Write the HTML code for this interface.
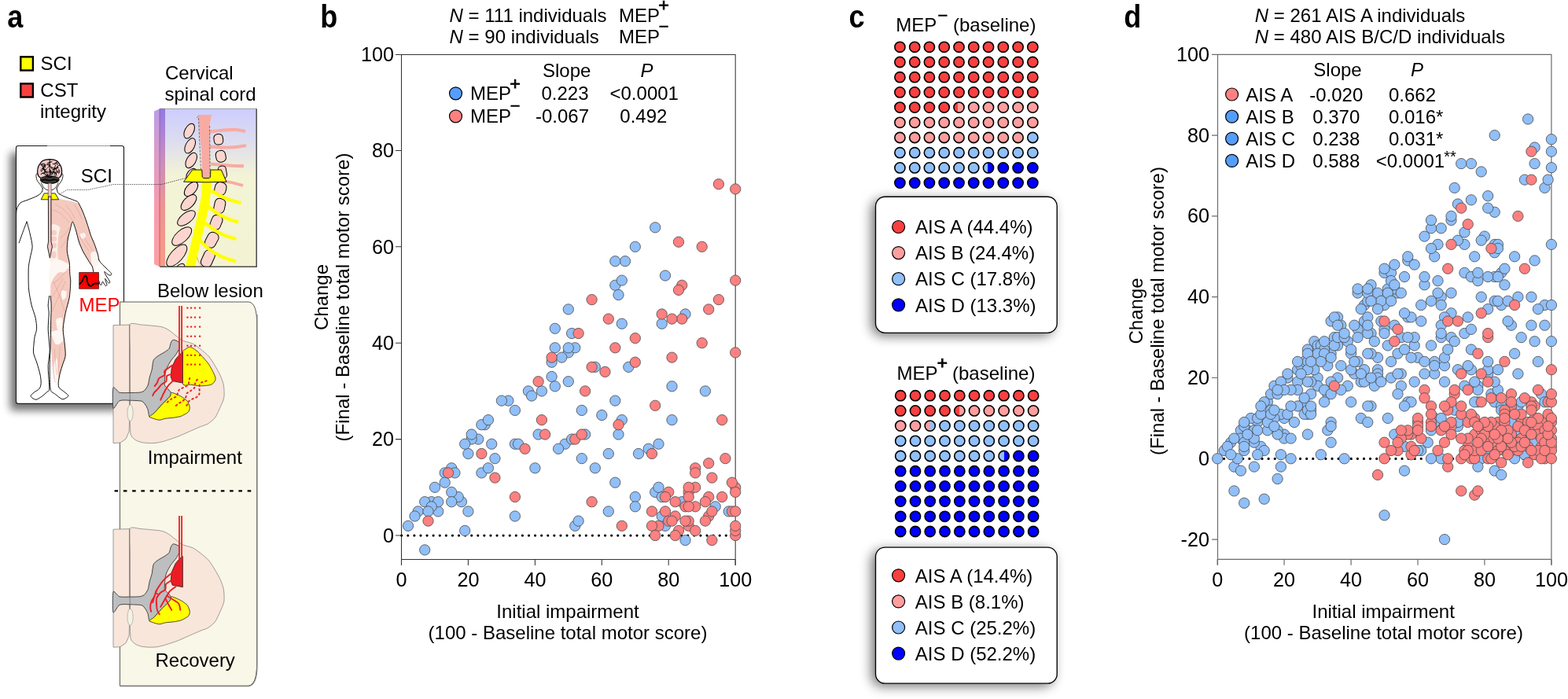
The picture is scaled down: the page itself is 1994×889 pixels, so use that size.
<!DOCTYPE html>
<html lang="en"><head><meta charset="utf-8"><title>Figure</title>
<style>
html,body{margin:0;padding:0;background:#fff;}
body{width:1994px;height:889px;overflow:hidden;}
svg{display:block;font-family:"Liberation Sans", sans-serif;font-size:24px;fill:#000;}
.pl{font-weight:bold;font-size:40.5px;}
</style></head><body>
<svg width="1994" height="889" viewBox="0 0 1994 889">
<defs>
<filter id="sh" x="-20%" y="-25%" width="140%" height="150%"><feGaussianBlur stdDeviation="7.5"/></filter>
<filter id="sh2" x="-20%" y="-20%" width="140%" height="140%"><feGaussianBlur stdDeviation="5.5"/></filter>
</defs>
<rect width="1994" height="889" fill="#fff"/>

<g class="pl">
<text transform="translate(9.3 35) scale(0.89 1)">a</text>
<text transform="translate(407.2 35) scale(0.89 1)">b</text>
<text transform="translate(1079.6 35) scale(0.89 1)">c</text>
<text transform="translate(1429.2 35) scale(0.89 1)">d</text>
</g>
<rect x="26.3" y="72.3" width="15.6" height="17.2" fill="#ffff00" stroke="#000" stroke-width="2.4"/>
<rect x="26.3" y="106.4" width="15.6" height="17.1" fill="#f94040" stroke="#000" stroke-width="2.4"/>
<text x="51.6" y="89.1">SCI</text>
<text x="51.3" y="123.1">CST</text>
<text x="51" y="150.4">integrity</text>
<text x="210" y="101.3">Cervical</text>
<text x="209.5" y="127.5">spinal cord</text>
<text x="200" y="377.6">Below lesion</text>
<defs>
<linearGradient id="cbg" x1="0" y1="0" x2="0" y2="1"><stop offset="0" stop-color="#cdcdff"/><stop offset="0.2" stop-color="#dcdcf0"/><stop offset="0.42" stop-color="#f3f3d6"/><stop offset="1" stop-color="#f3f3d4"/></linearGradient>
<linearGradient id="cs1" x1="0" y1="0" x2="0" y2="1"><stop offset="0" stop-color="#9478e4"/><stop offset="0.3" stop-color="#c68cc0"/><stop offset="0.6" stop-color="#ec9496"/><stop offset="1" stop-color="#f89a86"/></linearGradient>
<linearGradient id="cs2" x1="0" y1="0" x2="0" y2="1"><stop offset="0" stop-color="#bb9ce6"/><stop offset="0.3" stop-color="#dc9cc8"/><stop offset="0.6" stop-color="#f79cae"/><stop offset="1" stop-color="#ff9fa2"/></linearGradient>
<clipPath id="cclip"><rect x="203" y="138.3" width="123" height="201"/></clipPath>
</defs>
<path d="M196 141.5L203 138.3V339.3L196 336Z" fill="url(#cs2)"/>
<rect x="203" y="138.3" width="123" height="201" fill="url(#cbg)"/>
<rect x="203" y="138.3" width="7" height="201" fill="url(#cs1)"/>
<path d="M203 138.6V240" stroke="#6a4a9a" stroke-width="0.8" opacity="0.7"/>
<path d="M203 240V339" stroke="#a24a52" stroke-width="0.9" opacity="0.8"/>
<g clip-path="url(#cclip)">
<path d="M266.0 167.5C269.2 167.2 279.3 165.9 285.0 165.5C290.7 165.1 295.5 164.8 300.0 165.0C304.5 165.2 310.0 166.7 312.0 167.0" fill="none" stroke="#f8aba2" stroke-width="4.2"/>
<path d="M266.0 186.5C269.2 186.7 279.3 187.4 285.0 187.5C290.7 187.6 295.3 187.4 300.0 187.0C304.7 186.6 310.8 185.3 313.0 185.0" fill="none" stroke="#f8aba2" stroke-width="4.2"/>
<path d="M268.0 208.5C270.8 208.8 279.7 209.6 285.0 210.0C290.3 210.4 295.8 210.8 300.0 211.0C304.2 211.2 308.3 211.0 310.0 211.0" fill="none" stroke="#f8aba2" stroke-width="4.2"/>
<path d="M286.0 230.5C288.0 230.9 294.2 232.1 298.0 233.0C301.8 233.9 307.2 235.5 309.0 236.0" fill="none" stroke="#f8aba2" stroke-width="3.6"/>
<ellipse cx="240.7" cy="166.6" rx="5.6" ry="10.2" transform="rotate(27 240.7 166.6)" fill="#fcd6ce" stroke="#000" stroke-width="1"/>
<ellipse cx="241.7" cy="185.4" rx="5.6" ry="10.4" transform="rotate(27 241.7 185.4)" fill="#fcd6ce" stroke="#000" stroke-width="1"/>
<ellipse cx="243.2" cy="204" rx="5.8" ry="10.6" transform="rotate(30 243.2 204)" fill="#fcd6ce" stroke="#000" stroke-width="1"/>
<ellipse cx="243.5" cy="222" rx="5.5" ry="8.5" transform="rotate(35 243.5 222)" fill="#fcd6ce" stroke="#000" stroke-width="1"/>
<ellipse cx="243" cy="240.5" rx="6.2" ry="11" transform="rotate(42 243 240.5)" fill="#fcd6ce" stroke="#000" stroke-width="1"/>
<ellipse cx="240" cy="257.5" rx="6.4" ry="12.4" transform="rotate(45 240 257.5)" fill="#fcd6ce" stroke="#000" stroke-width="1"/>
<ellipse cx="237" cy="277.5" rx="6.6" ry="13.4" transform="rotate(52 237 277.5)" fill="#fcd6ce" stroke="#000" stroke-width="1"/>
<ellipse cx="231.2" cy="300.5" rx="7.4" ry="15.4" transform="rotate(48 231.2 300.5)" fill="#fcd6ce" stroke="#000" stroke-width="1"/>
<ellipse cx="224.8" cy="325" rx="7.8" ry="17.4" transform="rotate(42 224.8 325)" fill="#fcd6ce" stroke="#000" stroke-width="1"/>
<ellipse cx="228" cy="343" rx="5" ry="9" transform="rotate(40 228 343)" fill="#fcd6ce" stroke="#000" stroke-width="1"/>
<rect x="272.1" y="170.6" width="11.5" height="13.4" rx="4.8" transform="rotate(-8 277.8 177.3)" fill="#fcd6ce" stroke="#000" stroke-width="1"/>
<rect x="274.6" y="191.5" width="12.4" height="14.6" rx="5.2" transform="rotate(-12 280.8 198.8)" fill="#fcd6ce" stroke="#000" stroke-width="1"/>
<rect x="278.0" y="211.0" width="10" height="16" rx="4.2" transform="rotate(-10 283 219)" fill="#fcd6ce" stroke="#000" stroke-width="1"/>
<rect x="273.1" y="231.8" width="14.5" height="16.5" rx="6.1" transform="rotate(14 280.3 240)" fill="#fcd6ce" stroke="#000" stroke-width="1"/>
<rect x="272.5" y="252.5" width="13.6" height="18.6" rx="5.7" transform="rotate(12 279.3 261.8)" fill="#fcd6ce" stroke="#000" stroke-width="1"/>
<rect x="268.2" y="273.5" width="13.6" height="18.6" rx="5.7" transform="rotate(22 275 282.8)" fill="#fcd6ce" stroke="#000" stroke-width="1"/>
<rect x="262.3" y="295.2" width="14" height="20" rx="5.9" transform="rotate(28 269.3 305.2)" fill="#fcd6ce" stroke="#000" stroke-width="1"/>
<rect x="257.4" y="318.0" width="14" height="22" rx="5.9" transform="rotate(24 264.4 329)" fill="#fcd6ce" stroke="#000" stroke-width="1"/>
<path d="M253.2 146.0 L269.0 146.0 L266.6 160.0 L267.4 227.0 L257.4 227.0 L256.0 190.0 L252.2 150.0Z" fill="#f8aba2" stroke="none" stroke-width="1"/>
<path d="M250.0 150.0 L253.0 146.8" fill="none" stroke="#555" stroke-width="0.6"/>
<path d="M252.4 150L256 226M266.6 160L267.2 226" fill="none" stroke="#333" stroke-width="0.6" stroke-dasharray="3 1.5"/>
<path d="M257.0 230.0 L269.6 230.0 L266.0 262.0 L261.0 284.0 L255.0 308.0 L248.0 339.5 L236.0 339.5 L244.0 305.0 L251.0 275.0 L256.0 250.0Z" fill="#ffff00" stroke="none" stroke-width="1"/>
<path d="M268.5 242.5C270.4 243.6 275.9 247.0 280.0 249.0C284.1 251.0 288.6 253.0 293.0 254.5C297.4 256.0 304.2 257.4 306.5 258.0" fill="none" stroke="#ffff00" stroke-width="4.4"/>
<path d="M264.5 262.5C266.4 263.9 271.9 268.4 276.0 271.0C280.1 273.6 284.5 276.1 289.0 278.0C293.5 279.9 300.7 281.8 303.0 282.5" fill="none" stroke="#ffff00" stroke-width="4.4"/>
<path d="M260.0 283.0C262.0 284.5 267.7 289.2 272.0 292.0C276.3 294.8 281.2 297.5 286.0 299.5C290.8 301.5 298.1 303.2 300.5 304.0" fill="none" stroke="#ffff00" stroke-width="4.4"/>
<path d="M254.5 306.0C256.4 307.8 261.4 313.6 266.0 317.0C270.6 320.4 276.3 323.9 282.0 326.5C287.7 329.1 297.0 331.5 300.0 332.5" fill="none" stroke="#ffff00" stroke-width="4.4"/>
<path d="M250.0 327.0C250.7 328.3 252.7 332.7 254.0 335.0C255.3 337.3 257.3 340.0 258.0 341.0" fill="none" stroke="#f4a8a0" stroke-width="1.2"/>
<path d="M244.7 216.0 L256.8 216.0 L257.2 225.0 L259.0 226.6 L266.0 226.6 L267.6 225.0 L267.8 216.0 L281.3 216.0 L288.0 231.2 L262.0 231.8 L233.6 231.2Z" fill="#ffff00" stroke="#000" stroke-width="0.9"/>
</g>
<path d="M203.3 339.3H326.2V138.3" fill="none" stroke="#4a4a4a" stroke-width="1.5"/>
<path d="M203 138.3H326" fill="none" stroke="#666" stroke-width="0.6"/>
<rect x="13" y="194" width="137.5" height="328" rx="3" fill="#000" opacity="0.56" filter="url(#sh2)"/>
<rect x="20.5" y="185.5" width="137" height="327.8" rx="2.6" fill="#fff" stroke="#1c1c1c" stroke-width="1.15"/>
<path d="M60 185.5H140" stroke="#999" stroke-width="1"/>
<clipPath id="bclip"><rect x="21.1" y="186.1" width="135.8" height="326.6"/></clipPath>
<g clip-path="url(#bclip)">
<path d="M65.2 250.0C66.5 250.3 73.3 252.3 76.2 253.0C79.2 253.7 87.5 255.3 90.3 256.0C93.1 256.7 98.7 257.7 100.3 259.0C101.9 260.3 103.4 264.9 104.3 267.0C105.2 269.1 107.4 274.5 108.3 277.1C109.3 279.6 111.5 286.5 112.3 289.1C113.2 291.7 114.4 296.5 115.3 299.1C116.3 301.7 119.3 308.3 120.4 311.2C121.4 314.0 123.6 320.6 124.4 323.2C125.1 325.8 127.3 331.8 126.6 333.7C125.8 335.7 119.5 340.0 117.9 339.7C116.2 339.4 113.8 333.6 112.3 331.2C110.9 328.8 106.7 322.0 105.3 319.2C103.9 316.4 101.4 310.3 100.3 307.1C99.2 304.0 97.2 295.0 96.3 292.1C95.4 289.2 93.1 282.1 92.3 282.1C91.5 282.1 90.0 289.5 89.3 292.1C88.6 294.7 86.7 301.0 86.3 304.1C85.8 307.3 85.0 315.7 85.3 319.2C85.5 322.7 87.9 330.8 88.3 334.2C88.7 337.6 88.6 345.4 88.8 348.2C88.9 350.9 89.8 354.5 89.8 358.0C89.7 361.5 89.0 373.4 88.3 378.1C87.5 382.8 84.2 393.5 83.2 398.2C82.3 402.8 80.4 413.7 80.2 418.2C80.1 422.8 81.9 433.2 82.2 437.2C82.6 441.1 83.5 449.1 83.2 452.0C83.0 455.0 81.1 459.4 80.2 462.1C79.4 464.8 77.0 472.3 76.2 475.1C75.5 477.9 74.5 485.0 73.7 486.1C72.9 487.3 70.0 487.4 69.2 485.1C68.4 482.9 67.2 471.5 66.7 467.1C66.2 462.6 65.5 450.5 65.2 447.0C64.9 443.5 64.3 441.5 64.2 437.0C64.1 432.5 64.6 413.9 64.7 408.2C64.8 402.5 65.3 392.0 65.2 388.1C65.1 384.3 64.3 382.0 64.2 375.1C64.1 368.2 64.6 342.8 64.7 329.2C64.8 315.7 65.1 268.2 65.2 259.0C65.3 249.8 65.2 251.0 65.2 250.0C65.2 248.9 63.9 249.6 65.2 250.0Z" fill="#f4cabf" stroke="none" stroke-width="1"/>
<path d="M65.2 287.1C66.3 282.1 75.2 287.8 76.2 288.6C77.2 289.4 75.5 293.3 75.2 295.1C75.0 297.0 73.9 304.5 73.7 307.1C73.5 309.8 73.2 318.4 73.2 321.2C73.3 324.0 75.0 333.5 74.2 335.2C73.4 336.9 66.1 343.1 65.2 338.2C64.3 333.4 64.1 292.0 65.2 287.1Z" fill="#fbeee8" stroke="none" stroke-width="1"/>
<ellipse cx="68.5" cy="296" rx="3.6" ry="3.4" fill="#f6cfc5"/>
<ellipse cx="68.5" cy="304" rx="3.6" ry="3.4" fill="#f6cfc5"/>
<ellipse cx="68.5" cy="312" rx="3.6" ry="3.6" fill="#f6cfc5"/>
<ellipse cx="68.2" cy="324" rx="3.6" ry="4.6" fill="#f6cfc5"/>
<ellipse cx="68" cy="340" rx="3.4" ry="6" fill="#f6cfc5"/>
<path d="M78.2 370.1C78.8 368.4 82.6 369.7 83.2 371.1C83.9 372.4 82.8 376.4 82.2 378.1C81.7 379.8 80.4 382.4 79.7 381.1C79.1 379.8 77.6 371.7 78.2 370.1Z" fill="#fff" stroke="none" stroke-width="1"/>
<path d="M73.2 406.2C74.1 404.0 78.2 403.2 79.2 405.2C80.2 407.2 79.1 413.5 79.2 418.2C79.4 422.9 81.7 430.1 80.2 433.3C78.7 436.4 72.0 438.3 70.2 437.2C68.4 436.0 68.5 429.4 69.2 426.2C69.9 423.1 73.6 421.6 74.2 418.2C74.9 414.9 72.4 408.3 73.2 406.2Z" fill="#fdf3ef" stroke="none" stroke-width="1"/>
<path d="M102.3 297.6C102.9 296.6 106.8 296.2 107.8 296.9C108.8 297.7 108.9 301.1 108.3 302.1C107.7 303.2 105.3 303.9 104.3 303.1C103.3 302.4 101.7 298.7 102.3 297.6Z" fill="#fff" stroke="none" stroke-width="1"/>
<path d="M115.3 323.2C115.9 320.1 120.0 318.9 121.9 320.7C123.7 322.4 127.2 330.6 126.6 333.7C126.0 336.8 120.2 341.0 118.4 339.2C116.5 337.5 114.8 326.3 115.3 323.2Z" fill="#fbf4ef" stroke="none" stroke-width="1"/>
<path d="M65.2 332.2C66.8 329.9 71.2 329.4 74.2 330.0C77.2 330.6 86.5 334.6 87.7 336.7C88.9 338.8 85.0 344.4 83.2 345.7C81.4 347.1 76.3 345.7 74.2 346.9C72.1 348.1 69.0 352.5 67.5 354.7C66.0 357.0 63.7 364.6 63.0 363.7C62.3 362.8 62.2 352.2 62.5 348.0C62.8 343.8 63.7 334.6 65.2 332.2Z" fill="#fdf6f2" stroke="none" stroke-width="1"/>
<path d="M77.6 371.6C78.2 370.3 83.6 369.6 84.4 370.5C85.2 371.4 84.3 377.0 83.7 378.4C83.1 379.7 80.7 381.5 79.9 380.6C79.1 379.7 77.0 373.0 77.6 371.6Z" fill="#fdf6f2" stroke="none" stroke-width="1"/>
<path d="M65.7 422.2C66.6 420.7 72.4 419.5 74.2 420.0C76.0 420.4 78.7 423.5 79.2 425.6C79.6 427.7 78.6 434.1 77.6 435.7C76.7 437.4 73.3 438.6 72.0 438.0C70.6 437.4 68.3 433.3 67.5 431.2C66.7 429.1 64.8 423.7 65.7 422.2Z" fill="#fdf6f2" stroke="none" stroke-width="1"/>
<path d="M71.5 406.5C72.1 404.7 76.7 403.9 77.6 405.4C78.5 406.9 78.9 415.9 78.3 417.7C77.7 419.5 74.0 420.4 73.1 418.9C72.2 417.4 70.9 408.3 71.5 406.5Z" fill="#fdf6f2" stroke="none" stroke-width="1"/>
<path d="M68.6 465.0C68.9 461.1 71.7 453.3 72.4 456.0C73.2 458.7 74.5 481.3 74.2 485.2C73.9 489.1 70.9 487.9 70.2 485.2C69.4 482.5 68.3 468.9 68.6 465.0Z" fill="#fdf6f2" stroke="none" stroke-width="1"/>
<g fill="none" stroke="#d98f7c" stroke-width="0.5" opacity="0.85">
<path d="M70.2 260.0C71.7 260.8 76.4 262.8 79.2 265.0C82.1 267.2 84.9 270.2 87.3 273.0C89.6 275.9 92.3 280.6 93.3 282.1"/>
<path d="M83.2 260.0C84.4 261.5 88.3 266.0 90.3 269.0C92.3 272.0 94.5 276.6 95.3 278.1"/>
<path d="M66.2 267.0C67.9 267.7 72.6 268.4 76.2 271.0C79.9 273.7 86.3 281.1 88.3 283.1"/>
<path d="M94.3 260.0C95.1 261.3 97.6 264.9 99.3 268.0C101.0 271.2 103.5 277.2 104.3 279.1"/>
<path d="M76.2 303.1C77.4 302.1 81.2 299.5 83.2 297.1C85.3 294.8 87.4 290.4 88.3 289.1"/>
<path d="M77.2 315.2C78.2 313.8 81.7 309.8 83.2 307.1C84.8 304.5 85.8 300.5 86.3 299.1"/>
<path d="M101.3 301.1C102.1 302.5 104.3 306.1 106.3 309.2C108.3 312.2 112.2 317.5 113.3 319.2"/>
<path d="M104.3 297.1C105.5 299.1 109.0 305.5 111.3 309.2C113.7 312.8 117.2 317.5 118.4 319.2"/>
<path d="M66.2 361.0C67.9 359.9 72.9 357.2 76.2 354.0C79.6 350.8 84.6 344.0 86.3 342.0"/>
<path d="M64.2 381.1C65.5 378.9 69.5 372.6 72.2 368.1C74.9 363.5 78.9 356.4 80.2 354.0"/>
<path d="M66.2 396.1C67.5 393.1 71.4 384.4 74.2 378.1C77.1 371.7 81.7 361.4 83.2 358.0"/>
<path d="M68.2 358.0C69.5 361.4 73.9 371.7 76.2 378.1C78.6 384.4 81.2 393.1 82.2 396.1"/>
<path d="M69.2 443.0C69.4 445.4 69.7 451.4 70.2 457.1C70.7 462.7 71.9 473.8 72.2 477.1"/>
<path d="M76.2 441.0C76.1 443.7 75.6 451.4 75.2 457.1C74.8 462.7 74.0 472.1 73.7 475.1"/>
</g>
<path d="M54.2 239.2C54.0 240.0 54.3 242.6 53.2 244.2C52.0 245.9 50.2 247.6 47.1 249.2C44.1 250.9 38.4 252.9 35.1 254.3C31.8 255.6 29.0 256.1 27.1 257.3C25.2 258.4 24.5 259.5 23.6 261.0C22.6 262.5 21.8 264.0 21.3 266.0C20.7 268.0 20.6 271.9 20.5 273.0" fill="none" stroke="#111" stroke-width="1"/>
<path d="M24.1 309.2C24.9 306.8 27.4 299.7 29.1 295.1C30.8 290.5 33.3 283.8 34.1 281.6" fill="none" stroke="#111" stroke-width="1"/>
<path d="M34.1 281.6C34.6 283.6 37.2 292.9 38.1 297.1C39.1 301.3 41.0 309.6 41.1 313.2C41.3 316.8 39.7 321.0 39.1 324.2C38.5 327.4 37.0 334.1 36.6 337.2C36.2 340.4 36.1 343.9 36.1 348.0C36.1 352.1 36.1 362.7 36.6 368.1C37.1 373.4 39.0 383.3 40.1 388.1C41.3 392.9 44.3 400.2 45.1 404.2C46.0 408.2 46.8 415.0 46.6 418.2C46.5 421.4 44.6 425.7 44.1 428.2C43.7 430.7 43.3 434.2 43.1 437.0C42.9 439.8 42.1 445.7 42.6 449.0C43.2 452.4 46.0 458.3 47.1 462.1C48.3 465.8 50.5 473.8 51.2 477.1C51.8 480.5 52.3 484.9 52.2 487.2C52.0 489.4 51.4 492.6 50.2 494.2C48.9 495.8 44.6 498.0 43.1 499.2C41.7 500.4 39.4 502.3 39.1 503.2C38.8 504.1 40.2 505.5 41.1 506.2C42.1 506.9 44.5 508.5 46.1 508.2C47.7 507.9 51.3 505.5 53.2 504.2C55.0 502.9 58.9 499.4 60.2 498.2C61.5 497.0 62.5 498.0 62.7 495.2C62.9 492.4 61.9 481.1 61.7 477.1C61.5 473.1 61.0 469.1 61.2 465.1C61.4 461.1 63.0 450.8 63.2 447.0C63.4 443.3 63.0 441.0 62.7 437.2C62.4 433.3 61.3 423.4 61.2 418.2C61.1 413.0 62.2 402.2 62.2 398.2C62.2 394.1 61.1 391.1 61.2 388.1C61.3 385.2 62.5 377.7 62.7 376.1" fill="none" stroke="#111" stroke-width="1"/>
<path d="M64.2 376.1C64.3 377.7 65.1 383.8 65.2 388.1C65.3 392.4 64.8 401.6 64.7 408.2C64.6 414.7 64.4 429.3 64.2 437.2C64.0 445.0 63.2 459.4 63.2 467.1C63.2 474.8 63.3 490.6 64.2 495.2C65.1 499.7 68.2 499.5 70.2 501.2C72.2 502.9 77.2 507.2 79.2 507.7C81.2 508.2 84.3 505.9 85.3 505.2C86.3 504.5 87.4 503.8 86.8 502.7C86.1 501.6 81.8 498.5 80.2 497.2C78.7 495.9 76.0 494.5 75.2 493.2C74.4 491.8 74.1 489.6 74.2 487.2C74.4 484.7 75.4 478.5 76.2 475.1C77.0 471.8 79.3 465.2 80.2 462.1C81.2 459.0 83.0 455.4 83.2 452.0C83.5 448.7 82.6 441.5 82.2 437.0C81.8 432.5 80.1 423.4 80.2 418.2C80.4 413.0 82.2 403.5 83.2 398.2C84.3 392.8 87.4 383.4 88.3 378.1C89.1 372.7 89.7 362.0 89.8 358.0C89.8 354.0 89.0 351.3 88.8 348.2C88.6 345.0 88.7 338.1 88.3 334.2C87.8 330.4 85.5 323.2 85.3 319.2C85.0 315.2 85.7 307.7 86.3 304.1C86.8 300.5 88.5 295.0 89.3 292.1C90.1 289.2 91.3 282.1 92.3 282.1C93.2 282.1 95.2 288.8 96.3 292.1C97.4 295.4 99.1 303.5 100.3 307.1C101.5 310.8 103.7 316.0 105.3 319.2C106.9 322.4 110.7 328.5 112.3 331.2C113.9 333.9 116.5 337.2 117.4 339.2C118.2 341.2 118.7 345.3 118.9 346.3" fill="none" stroke="#111" stroke-width="1"/>
<path d="M72.2 239.2C72.4 240.0 72.7 243.9 73.7 245.2C74.8 246.6 78.0 248.2 80.2 249.2C82.4 250.3 87.9 252.3 90.3 253.2C92.7 254.2 97.0 255.5 98.3 256.3C99.6 257.0 99.5 257.6 100.3 259.0C101.1 260.4 103.2 264.6 104.3 267.0C105.4 269.4 107.3 274.1 108.3 277.1C109.4 280.0 111.4 286.1 112.3 289.1C113.3 292.0 114.3 296.2 115.3 299.1C116.4 302.1 119.2 307.9 120.4 311.2C121.6 314.4 123.6 320.3 124.4 323.2C125.1 326.1 125.7 330.9 126.2 332.7C126.6 334.5 127.7 336.2 127.9 336.7" fill="none" stroke="#111" stroke-width="1"/>
<path d="M125.2 329.8C125.7 330.6 127.0 332.8 128.2 334.3C129.5 335.8 131.2 337.3 132.8 338.8C134.3 340.3 135.8 341.9 137.3 343.4C138.7 344.8 140.8 346.4 141.4 347.5C142.1 348.6 141.6 349.4 141.2 349.8C140.8 350.2 139.7 350.4 138.8 350.0C137.8 349.6 136.4 348.3 135.4 347.5C134.4 346.8 132.9 345.0 132.8 345.5C132.6 345.9 133.8 348.6 134.6 350.1C135.5 351.7 136.8 353.2 137.6 354.7C138.5 356.1 139.6 357.9 139.7 358.8C139.8 359.7 139.0 360.3 138.4 360.1C137.8 359.9 136.9 358.6 136.1 357.7C135.4 356.7 133.9 354.3 133.7 354.3C133.4 354.3 134.0 356.4 134.4 357.7C134.8 358.9 135.9 360.8 135.9 361.8C136.0 362.8 135.2 363.8 134.6 363.7C134.0 363.6 133.0 362.0 132.4 361.1C131.7 360.1 131.1 358.2 130.6 358.1C130.2 357.9 130.0 359.2 129.7 359.9C129.4 360.7 129.3 362.1 128.8 362.4C128.4 362.6 127.6 362.3 127.1 361.6C126.6 360.9 126.4 359.0 126.1 358.1C125.8 357.2 125.4 356.5 125.2 356.2" fill="#fff" stroke="#111" stroke-width="1"/>
<path d="M54.7 240.2C54.0 239.2 51.9 236.0 50.7 234.2C49.4 232.4 47.9 231.0 47.1 229.2C46.4 227.3 45.9 224.7 45.9 223.2C45.9 221.7 46.9 220.7 47.1 220.2" fill="none" stroke="#111" stroke-width="0.9"/>
<path d="M71.7 240.2C72.3 239.2 74.1 236.0 75.2 234.2C76.4 232.4 77.9 231.0 78.7 229.2C79.5 227.3 80.0 224.7 80.0 223.2C80.0 221.7 79.0 220.7 78.7 220.2" fill="none" stroke="#111" stroke-width="0.9"/>
<path d="M52.2 232.2C52.8 233.4 54.3 237.5 56.2 239.2C58.0 240.9 60.8 242.2 63.2 242.2C65.5 242.2 68.4 240.9 70.2 239.2C72.0 237.5 73.6 233.4 74.2 232.2" fill="none" stroke="#111" stroke-width="0.9"/>
<path d="M63.2 202.6C66.2 202.6 69.9 203.2 72.2 204.6C74.6 206.0 76.1 208.9 77.2 211.1C78.3 213.4 78.7 216.0 78.7 218.1C78.7 220.3 78.3 222.7 77.2 224.2C76.1 225.7 74.6 226.6 72.2 227.2C69.9 227.8 66.2 227.7 63.2 227.7C60.2 227.7 56.5 227.8 54.2 227.2C51.8 226.6 50.2 225.7 49.1 224.2C48.1 222.7 47.6 220.3 47.6 218.1C47.6 216.0 48.1 213.4 49.1 211.1C50.2 208.9 51.8 206.0 54.2 204.6C56.5 203.2 60.2 202.6 63.2 202.6Z" fill="#f0c8c6" stroke="#000" stroke-width="1.2"/>
<g fill="none" stroke="#000" stroke-width="0.9" stroke-linecap="round">
<path d="M52.4 217.6Q50.6 216.6 54.0 214.2"/>
<path d="M60.6 223.3Q61.8 223.0 62.4 224.3"/>
<path d="M69.8 217.8Q65.8 218.1 66.5 221.7"/>
<path d="M73.3 218.9Q74.3 220.9 71.7 218.0"/>
<path d="M74.7 220.3Q77.3 216.0 74.8 216.4"/>
<path d="M71.0 219.6Q69.8 220.5 67.5 217.8"/>
<path d="M63.6 210.4Q61.5 212.4 60.5 213.4"/>
<path d="M56.8 213.0Q57.4 208.3 55.7 208.5"/>
<path d="M74.0 214.0Q74.3 212.5 72.6 212.7"/>
<path d="M68.3 217.6Q69.2 217.7 67.0 217.8"/>
<path d="M75.0 216.2Q73.2 216.6 74.3 216.3"/>
<path d="M56.6 220.2Q53.0 219.4 52.8 220.7"/>
<path d="M70.1 215.1Q67.0 216.0 68.6 216.4"/>
<path d="M64.9 217.4Q64.7 217.2 64.7 221.8"/>
<path d="M70.0 224.9Q70.7 221.2 68.7 221.9"/>
<path d="M68.1 215.6Q68.1 217.4 70.7 214.1"/>
<path d="M70.4 214.2Q72.7 219.0 75.0 219.0"/>
<path d="M56.6 222.2Q56.8 222.7 59.8 223.5"/>
<path d="M54.6 213.6Q55.5 217.5 52.3 217.9"/>
<path d="M61.2 221.9Q60.2 223.0 59.0 226.2"/>
<path d="M62.7 211.4Q62.6 209.2 60.6 209.1"/>
<path d="M71.8 223.1Q71.1 219.4 71.1 220.6"/>
<path d="M52.0 209.5Q55.4 212.1 56.1 213.9"/>
<path d="M51.4 209.0Q52.0 210.0 54.1 209.7"/>
<path d="M64.7 206.1Q64.5 205.6 60.1 208.1"/>
<path d="M72.9 207.2Q72.5 210.7 73.3 210.0"/>
<path d="M57.1 218.0Q59.4 218.3 61.2 219.8"/>
<path d="M68.6 220.2Q68.3 220.2 70.5 219.2"/>
<path d="M60.3 224.1Q57.6 221.1 56.8 220.2"/>
<path d="M61.7 207.0Q61.4 206.5 65.9 205.7"/>
<path d="M57.5 216.8Q57.0 217.0 59.1 215.3"/>
<path d="M66.5 214.9Q64.3 214.2 65.2 212.7"/>
<path d="M65.5 223.5Q63.7 224.7 65.5 225.4"/>
<path d="M55.1 208.9Q55.8 207.0 52.7 208.5"/>
<path d="M63.2 222.3Q65.4 221.0 65.7 221.3"/>
<path d="M71.4 214.0Q73.5 214.2 73.1 212.6"/>
<path d="M56.9 216.4Q54.5 214.4 55.0 212.9"/>
<path d="M61.7 218.4Q65.4 216.9 64.6 216.3"/>
<path d="M52.0 221.7Q52.0 220.1 55.9 220.0"/>
<path d="M67.2 208.5Q69.1 209.3 69.9 207.6"/>
<path d="M57.5 218.4Q58.6 219.6 56.4 217.4"/>
<path d="M62.6 219.2Q62.6 217.6 67.2 219.4"/>
<path d="M72.0 206.8Q70.3 209.8 70.7 209.0"/>
<path d="M72.3 205.7Q68.5 208.5 69.6 209.3"/>
<path d="M69.9 213.9Q67.2 216.5 66.7 216.0"/>
<path d="M64.2 219.1Q63.8 218.6 67.6 220.1"/>
<path d="M55.1 212.4Q56.8 213.1 55.4 213.8"/>
<path d="M57.1 210.1Q57.3 209.4 58.3 209.0"/>
<path d="M59.8 209.6Q63.7 208.6 63.9 209.5"/>
<path d="M73.5 212.8Q73.8 211.0 72.8 211.9"/>
<path d="M67.7 213.4Q63.5 213.8 63.5 209.6"/>
<path d="M71.1 214.0Q69.8 212.4 67.4 215.7"/>
<path d="M71.7 214.7Q72.4 210.2 76.0 210.2"/>
<path d="M56.5 215.7Q58.0 216.2 59.0 214.9"/>
<path d="M62.9 215.7Q65.9 216.5 63.9 220.0"/>
<path d="M70.8 210.2Q70.4 211.3 68.9 214.2"/>
<path d="M69.0 213.9Q70.7 213.6 68.9 216.1"/>
<path d="M57.5 217.4Q59.1 221.3 61.0 222.1"/>
<path d="M57.5 210.8Q56.2 208.9 56.1 208.2"/>
<path d="M67.4 218.7Q68.2 220.3 71.7 221.0"/>
<path d="M71.3 221.4Q72.2 219.4 72.5 218.3"/>
<path d="M57.5 212.5Q59.2 212.7 55.7 211.1"/>
<path d="M56.5 215.0Q53.4 215.4 53.4 214.0"/>
<path d="M56.3 219.8Q57.5 218.1 60.5 217.9"/>
<path d="M55.5 220.9Q57.1 221.0 56.9 216.8"/>
<path d="M60.8 223.1Q61.5 224.2 65.5 224.7"/>
<path d="M62.1 225.4Q61.5 223.2 59.5 222.5"/>
<path d="M53.9 211.1Q58.3 211.5 58.3 210.7"/>
<path d="M55.1 214.7Q54.8 215.7 57.2 217.1"/>
<path d="M61.1 207.1Q63.0 208.4 62.7 208.2"/>
<path d="M63.2 203V226"/>
</g>
<ellipse cx="63.2" cy="228.6" rx="12.4" ry="5.4" fill="#141414"/>
<path d="M52 227.5Q57 224.5 63 227.5Q69 224.5 74.5 227.5M55 230.5Q63 233 71 230.5" fill="none" stroke="#c9a4a2" stroke-width="0.5"/>
<path d="M56.2 245.9 L70.2 245.9 L74.7 253.8 L52.2 253.8Z" fill="#ffff00" stroke="#000" stroke-width="0.8"/>
<path d="M61.4 233.2 L65.2 233.2 L65.4 250.2 L61.2 250.2Z" fill="#f0c4c0" stroke="none" stroke-width="1"/>
<path d="M61.4 233.2 L61.2 250.2" fill="none" stroke="#333" stroke-width="0.5"/>
<path d="M65.2 233.2 L65.4 250.2" fill="none" stroke="#333" stroke-width="0.5"/>
<path d="M61.4 250.0 L65.0 250.0 L65.0 307.1 L66.4 313.7 L63.4 328.2 L60.4 313.7 L61.6 307.1Z" fill="#efc6c4" stroke="#111" stroke-width="0.9"/>
</g>
<rect x="100.8" y="346.6" width="24.6" height="20.6" fill="#ff0000" stroke="#4a1a1a" stroke-width="0.8"/>
<path d="M101.1 361.5C101.6 361.0 103.4 359.5 104.3 358.0C105.3 356.5 106.1 353.8 106.8 352.5C107.6 351.3 108.2 350.4 108.8 350.5C109.4 350.6 109.9 351.6 110.3 353.0C110.7 354.4 110.8 357.4 111.3 359.0C111.8 360.7 112.5 362.3 113.3 363.0C114.2 363.8 115.3 363.9 116.3 363.5C117.4 363.2 118.4 361.5 119.4 361.0C120.3 360.5 120.8 360.6 121.9 360.5C123.0 360.5 125.2 360.8 125.9 360.8" fill="none" stroke="#000" stroke-width="1.9"/>
<text x="100.6" y="396" fill="#ff0000">MEP</text>
<text x="102.8" y="232.2">SCI</text>
<path d="M75.5 247.0 L85.5 241.4 L112.0 241.4 L144.0 234.6 L205.0 234.6 L238.0 226.0" fill="none" stroke="#222" stroke-width="0.7" stroke-dasharray="1.6 1.1"/>
<path d="M152.5 384H316.5C324 385 326.6 396 326.6 410V846C326.6 862 323 871 316 872.4H152.5Z" fill="#f9f7e8" stroke="#4a4a4a" stroke-width="0.9"/>
<path d="M326.8 400V848C326.6 863 323 871.6 316 872.6H153" fill="none" stroke="#7a7a7a" stroke-width="1.5"/>
<path d="M164.6 413.1C166.3 409.4 175.4 412.8 180.1 413.1C184.9 413.4 201.1 414.8 205.2 415.6C209.3 416.5 212.9 418.7 215.2 420.2C217.6 421.6 223.3 426.7 225.3 428.2C227.2 429.7 229.9 432.1 232.3 433.2C234.6 434.2 242.6 435.9 245.3 437.2C248.0 438.5 253.0 442.4 255.3 444.2C257.7 446.1 263.3 450.6 265.4 453.0C267.5 455.5 271.6 462.1 273.4 465.1C275.2 468.0 279.1 475.2 280.4 478.1C281.7 481.0 283.9 487.0 284.4 490.1C285.0 493.3 285.4 502.0 284.9 505.2C284.5 508.3 281.8 514.2 280.4 517.2C279.1 520.3 275.3 528.7 273.4 531.3C271.5 533.8 266.5 537.7 264.4 539.0C262.3 540.3 258.2 541.4 255.3 542.5C252.5 543.7 243.8 547.5 240.3 549.0C236.8 550.6 228.8 554.2 225.3 555.6C221.7 556.9 213.1 559.7 210.2 560.6C207.3 561.5 202.5 562.7 200.2 563.1C197.8 563.4 192.5 563.6 190.2 563.6C187.8 563.5 182.1 563.0 180.1 562.6C178.1 562.2 174.5 560.8 173.1 560.1C171.7 559.3 168.9 557.0 168.1 556.1C167.3 555.1 166.4 553.5 166.1 552.1C165.8 550.6 165.7 547.2 165.6 544.0C165.5 540.9 165.1 536.8 165.1 525.2C165.0 513.7 165.1 458.1 165.1 445.0C165.0 431.9 162.8 416.8 164.6 413.1Z" fill="#f8e6da" stroke="#777" stroke-width="0.7"/>
<path d="M144.0 413.6 L164.6 413.1 L164.6 534.0 L164.1 549.0 L160.1 558.1 L153.0 563.1 L144.0 563.6Z" fill="#f8e6da" stroke="#777" stroke-width="0.7"/>
<path d="M220.2 432.2C219.1 432.3 217.8 434.9 217.2 436.2C216.6 437.5 216.0 441.9 215.2 443.2C214.4 444.5 212.0 446.0 210.2 447.2C208.5 448.4 201.9 451.9 200.2 453.2C198.4 454.5 196.0 456.3 195.2 458.2C194.3 460.2 193.7 467.5 193.2 470.1C192.6 472.6 190.7 477.8 190.2 480.1C189.6 482.4 189.0 488.1 188.1 490.1C187.3 492.1 184.4 496.1 183.1 497.2C181.8 498.2 179.2 498.9 177.1 499.2C175.0 499.4 168.0 499.5 165.1 499.5C162.1 499.5 154.5 499.9 152.0 499.2C149.6 498.4 144.9 490.8 144.0 493.1C143.1 495.5 143.1 517.3 144.0 519.2C144.9 521.2 149.6 510.9 152.0 509.7C154.5 508.5 161.8 509.1 165.1 509.2C168.4 509.3 177.8 509.5 180.1 510.2C182.5 510.9 184.2 513.9 185.1 515.2C186.1 516.5 187.6 519.5 188.1 521.2C188.7 523.0 189.2 529.8 190.2 530.3C191.1 530.7 194.4 527.0 196.2 525.2C197.9 523.5 202.9 517.7 205.2 515.2C207.5 512.8 214.8 506.0 216.2 504.2C217.6 502.3 217.7 500.4 217.2 499.2C216.8 497.9 213.2 494.3 212.2 493.1C211.3 492.0 209.4 491.2 209.2 489.1C209.0 487.0 209.9 477.5 210.2 475.1C210.6 472.6 211.4 469.9 212.2 468.1C213.0 466.2 215.8 461.1 217.2 459.0C218.6 456.9 223.0 452.0 224.3 450.0C225.5 448.0 227.9 443.7 228.3 442.0C228.6 440.2 228.2 436.1 227.3 435.0C226.3 433.8 221.4 432.0 220.2 432.2Z" fill="#bcbec0" stroke="#222" stroke-width="0.8"/>
<path d="M164.9 413.1 L165.3 515.2" fill="none" stroke="#555" stroke-width="0.6"/>
<ellipse cx="165.6" cy="525.2" rx="3.6" ry="10.5" fill="#f4f2e2" stroke="#999" stroke-width="0.6"/>
<path d="M218.2 499.2C219.9 499.2 227.9 502.9 230.3 504.2C232.6 505.5 237.0 508.6 238.3 510.2C239.6 511.8 241.2 516.6 241.3 518.2C241.4 519.9 240.6 523.0 239.3 524.2C238.0 525.5 232.5 528.4 230.3 529.3C228.0 530.1 222.6 530.9 220.2 531.3C217.9 531.6 212.3 531.9 210.2 532.3C208.1 532.6 204.5 534.4 202.2 534.2C199.8 533.9 190.9 531.3 190.2 530.3C189.4 529.2 194.4 527.0 196.2 525.2C197.9 523.5 202.9 517.7 205.2 515.2C207.5 512.8 214.7 506.0 216.2 504.2C217.7 502.3 216.6 499.2 218.2 499.2Z" fill="#ffff00" stroke="#222" stroke-width="0.8"/>
<path d="M232.4 449.0C232.7 444.0 234.2 445.4 235.3 444.5C236.3 443.6 239.9 441.2 241.3 441.2C242.7 441.2 245.9 443.3 247.3 444.2C248.7 445.1 251.2 446.8 253.3 449.0C255.4 451.2 263.1 459.8 265.4 463.1C267.7 466.3 271.9 474.8 272.9 477.1C273.9 479.4 274.4 481.7 273.9 483.1C273.4 484.5 271.1 488.2 268.9 489.1C266.7 490.0 258.4 490.8 255.3 490.8C252.2 490.8 245.0 489.5 242.3 489.1C239.6 488.8 233.5 492.3 232.4 487.6C231.2 482.9 232.0 454.0 232.4 449.0Z" fill="#ffff00" stroke="#222" stroke-width="0.8"/>
<path d="M232.4 448.0 L232.4 487.1 L219.2 484.6 L217.2 479.1 L218.2 468.1 L223.2 457.0 L228.3 451.0Z" fill="#ed1c24" stroke="#222" stroke-width="0.8"/>
<path d="M228 389V459M231.1 389V452" stroke="#ed1c24" stroke-width="1.8" fill="none"/>
<g fill="none" stroke="#ed1c24" stroke-width="1.9" stroke-linecap="round" stroke-linejoin="round">
<path d="M219.2 464.6C218.4 465.1 215.9 466.8 214.2 468.1C212.6 469.3 210.0 470.6 209.2 472.1C208.4 473.6 210.4 475.6 209.2 477.1C208.0 478.6 203.7 479.6 202.2 481.1C200.7 482.6 201.1 484.5 200.2 486.1C199.3 487.8 197.3 490.3 196.7 491.1"/>
<path d="M217.2 476.1C216.4 476.4 213.2 476.6 212.2 478.1C211.2 479.6 212.4 483.3 211.2 485.1C210.0 487.0 207.0 487.5 205.2 489.1C203.4 490.8 201.7 493.5 200.2 495.2C198.7 496.8 197.2 497.8 196.2 499.2C195.2 500.5 194.5 502.5 194.2 503.2"/>
<path d="M219.2 485.1C218.4 486.0 215.7 488.3 214.2 490.1C212.7 492.0 211.4 494.1 210.2 496.2C209.0 498.2 208.2 500.1 207.2 502.2C206.2 504.3 204.7 507.6 204.2 508.7"/>
</g>
<g fill="none" stroke="#ed1c24" stroke-width="1.9" stroke-dasharray="3.2 2.2">
<path d="M241.3 480.1C241.0 481.6 240.5 487.0 239.3 489.1C238.1 491.2 236.1 491.6 234.3 492.6C232.4 493.6 229.6 494.1 228.3 495.2C226.9 496.2 226.9 497.7 226.3 499.2C225.6 500.7 225.6 502.8 224.3 504.2C222.9 505.5 220.1 506.0 218.2 507.2C216.4 508.4 214.3 510.1 213.2 511.2C212.1 512.3 212.0 513.3 211.7 513.7"/>
<path d="M251.3 482.1C250.8 482.9 249.0 485.3 248.3 487.1C247.7 489.0 248.3 491.5 247.3 493.1C246.3 494.8 243.9 496.0 242.3 497.2C240.7 498.3 238.8 498.8 237.8 500.2C236.8 501.5 237.0 503.7 236.3 505.2C235.5 506.7 234.8 507.9 233.3 509.2C231.8 510.5 229.2 511.8 227.3 513.2C225.3 514.6 222.7 517.0 221.7 517.7"/>
<path d="M263.4 484.1C262.0 484.6 257.0 485.8 255.3 487.1C253.7 488.5 253.6 490.1 253.3 492.1C253.1 494.1 254.2 497.2 253.8 499.2C253.5 501.2 252.8 502.8 251.3 504.2C249.9 505.5 247.2 506.2 245.3 507.2C243.5 508.2 241.5 509.0 240.3 510.2C239.1 511.4 239.0 513.0 238.3 514.2C237.6 515.4 236.6 516.7 236.3 517.2"/>
</g>
<g fill="#ed1c24">
<rect x="237.3" y="390.6" width="2.2" height="2"/>
<rect x="242.0" y="390.6" width="2.2" height="2"/>
<rect x="246.9" y="390.6" width="2.2" height="2"/>
<rect x="253.0" y="390.6" width="2.2" height="2"/>
<rect x="237.3" y="402.6" width="2.2" height="2"/>
<rect x="242.0" y="402.6" width="2.2" height="2"/>
<rect x="246.9" y="402.6" width="2.2" height="2"/>
<rect x="253.0" y="402.6" width="2.2" height="2"/>
<rect x="237.3" y="414.6" width="2.2" height="2"/>
<rect x="242.0" y="414.6" width="2.2" height="2"/>
<rect x="246.9" y="414.6" width="2.2" height="2"/>
<rect x="253.0" y="414.6" width="2.2" height="2"/>
<rect x="237.3" y="426.7" width="2.2" height="2"/>
<rect x="242.0" y="426.7" width="2.2" height="2"/>
<rect x="246.9" y="426.7" width="2.2" height="2"/>
<rect x="253.0" y="426.7" width="2.2" height="2"/>
<rect x="237.3" y="438.7" width="2.2" height="2"/>
<rect x="242.0" y="438.7" width="2.2" height="2"/>
<rect x="246.9" y="438.7" width="2.2" height="2"/>
<rect x="253.0" y="438.7" width="2.2" height="2"/>
<rect x="237.3" y="450.8" width="2.2" height="2"/>
<rect x="242.0" y="450.8" width="2.2" height="2"/>
<rect x="246.9" y="450.8" width="2.2" height="2"/>
<rect x="253.0" y="450.8" width="2.2" height="2"/>
<rect x="237.3" y="462.6" width="2.2" height="2"/>
<rect x="242.0" y="462.6" width="2.2" height="2"/>
<rect x="246.9" y="462.6" width="2.2" height="2"/>
<rect x="253.0" y="462.6" width="2.2" height="2"/>
</g>
<path d="M164.6 672.7C166.3 669.0 175.4 672.4 180.1 672.7C184.9 673.0 201.1 674.4 205.2 675.2C209.3 676.1 212.9 678.3 215.2 679.8C217.6 681.2 223.3 686.3 225.3 687.8C227.2 689.3 229.9 691.7 232.3 692.8C234.6 693.8 242.6 695.5 245.3 696.8C248.0 698.1 253.0 702.0 255.3 703.8C257.7 705.7 263.3 710.2 265.4 712.6C267.5 715.1 271.6 721.7 273.4 724.7C275.2 727.6 279.1 734.8 280.4 737.7C281.7 740.6 283.9 746.6 284.4 749.7C285.0 752.9 285.4 761.6 284.9 764.8C284.5 767.9 281.8 773.8 280.4 776.8C279.1 779.9 275.3 788.3 273.4 790.9C271.5 793.4 266.5 797.3 264.4 798.6C262.3 799.9 258.2 801.0 255.3 802.1C252.5 803.3 243.8 807.1 240.3 808.6C236.8 810.2 228.8 813.8 225.3 815.2C221.7 816.5 213.1 819.3 210.2 820.2C207.3 821.1 202.5 822.3 200.2 822.7C197.8 823.0 192.5 823.2 190.2 823.2C187.8 823.1 182.1 822.6 180.1 822.2C178.1 821.8 174.5 820.4 173.1 819.7C171.7 818.9 168.9 816.6 168.1 815.7C167.3 814.7 166.4 813.1 166.1 811.7C165.8 810.2 165.7 806.8 165.6 803.6C165.5 800.5 165.1 796.4 165.1 784.8C165.0 773.3 165.1 717.7 165.1 704.6C165.0 691.5 162.8 676.4 164.6 672.7Z" fill="#f8e6da" stroke="#777" stroke-width="0.7"/>
<path d="M144.0 673.2 L164.6 672.7 L164.6 793.6 L164.1 808.6 L160.1 817.7 L153.0 822.7 L144.0 823.2Z" fill="#f8e6da" stroke="#777" stroke-width="0.7"/>
<path d="M220.2 691.8C219.1 691.9 217.8 694.5 217.2 695.8C216.6 697.1 216.0 701.5 215.2 702.8C214.4 704.1 212.0 705.6 210.2 706.8C208.5 708.0 201.9 711.5 200.2 712.8C198.4 714.1 196.0 715.9 195.2 717.8C194.3 719.8 193.7 727.1 193.2 729.7C192.6 732.2 190.7 737.4 190.2 739.7C189.6 742.0 189.0 747.7 188.1 749.7C187.3 751.7 184.4 755.7 183.1 756.8C181.8 757.8 179.2 758.5 177.1 758.8C175.0 759.0 168.0 759.1 165.1 759.1C162.1 759.1 154.5 759.5 152.0 758.8C149.6 758.0 144.9 750.4 144.0 752.7C143.1 755.1 143.1 776.9 144.0 778.8C144.9 780.8 149.6 770.5 152.0 769.3C154.5 768.1 161.8 768.7 165.1 768.8C168.4 768.9 177.8 769.1 180.1 769.8C182.5 770.5 184.2 773.5 185.1 774.8C186.1 776.1 187.6 779.1 188.1 780.8C188.7 782.6 189.2 789.4 190.2 789.9C191.1 790.3 194.4 786.6 196.2 784.8C197.9 783.1 202.9 777.3 205.2 774.8C207.5 772.4 214.8 765.6 216.2 763.8C217.6 761.9 217.7 760.0 217.2 758.8C216.8 757.5 213.2 753.9 212.2 752.7C211.3 751.6 209.4 750.8 209.2 748.7C209.0 746.6 209.9 737.1 210.2 734.7C210.6 732.2 211.4 729.5 212.2 727.7C213.0 725.8 215.8 720.7 217.2 718.6C218.6 716.5 223.0 711.6 224.3 709.6C225.5 707.6 227.9 703.3 228.3 701.6C228.6 699.8 228.2 695.7 227.3 694.6C226.3 693.4 221.4 691.6 220.2 691.8Z" fill="#bcbec0" stroke="#222" stroke-width="0.8"/>
<path d="M164.9 672.7 L165.3 774.8" fill="none" stroke="#555" stroke-width="0.6"/>
<ellipse cx="165.6" cy="784.8" rx="3.6" ry="10.5" fill="#f4f2e2" stroke="#999" stroke-width="0.6"/>
<path d="M218.2 758.8C219.9 758.8 227.9 762.5 230.3 763.8C232.6 765.1 237.0 768.2 238.3 769.8C239.6 771.4 241.2 776.2 241.3 777.8C241.4 779.5 240.6 782.6 239.3 783.8C238.0 785.1 232.5 788.0 230.3 788.9C228.0 789.7 222.6 790.5 220.2 790.9C217.9 791.2 212.3 791.5 210.2 791.9C208.1 792.2 204.5 794.0 202.2 793.8C199.8 793.5 190.9 790.9 190.2 789.9C189.4 788.8 194.4 786.6 196.2 784.8C197.9 783.1 202.9 777.3 205.2 774.8C207.5 772.4 214.7 765.6 216.2 763.8C217.7 761.9 216.6 758.8 218.2 758.8Z" fill="#ffff00" stroke="#222" stroke-width="0.8"/>
<path d="M232.4 707.6 L232.4 746.7 L219.2 744.2 L217.2 738.7 L218.2 727.7 L223.2 716.6 L228.3 710.6Z" fill="#ed1c24" stroke="#222" stroke-width="0.8"/>
<path d="M228 656.0V718.6M231.1 656.0V711.6" stroke="#ed1c24" stroke-width="1.8" fill="none"/>
<g fill="none" stroke="#ed1c24" stroke-width="1.9" stroke-linecap="round" stroke-linejoin="round">
<path d="M217.2 729.7C216.1 730.7 212.4 733.5 210.2 735.7C208.0 737.9 206.0 740.2 204.2 742.7C202.4 745.2 200.5 748.1 199.2 750.7C197.8 753.4 197.3 756.3 196.2 758.8C195.0 761.3 193.0 763.4 192.2 765.8C191.3 768.1 191.2 770.8 191.2 772.8C191.2 774.8 192.0 777.0 192.2 777.8"/>
<path d="M217.2 738.7C216.2 739.4 212.4 740.9 211.2 742.7C210.0 744.6 211.4 747.9 210.2 749.7C209.0 751.6 206.0 751.9 204.2 753.7C202.4 755.6 200.0 757.9 199.2 760.8C198.3 763.6 199.0 768.1 199.2 770.8C199.3 773.5 199.6 775.1 200.2 776.8C200.8 778.6 202.3 780.6 202.7 781.3"/>
<path d="M223.2 746.2C222.1 747.1 218.1 749.8 216.2 751.7C214.4 753.7 213.6 755.6 212.2 757.8C210.9 759.9 209.5 762.4 208.2 764.8C206.9 767.1 204.9 770.6 204.2 771.8"/>
<path d="M212.2 757.8C213.6 758.6 217.7 761.1 220.2 762.8C222.7 764.4 225.8 765.6 227.3 767.8C228.8 770.0 228.9 774.5 229.3 775.8"/>
<path d="M210.2 760.8C210.9 762.1 212.9 766.3 214.2 768.8C215.6 771.3 217.6 774.6 218.2 775.8"/>
<path d="M199.2 750.7C198.9 751.3 197.5 753.5 197.7 754.2C197.8 755.0 199.8 755.1 200.2 755.3"/>
<path d="M196.2 758.8 L194.2 766.3"/>
</g>
<path d="M145.6 624.4H320" stroke="#000" stroke-width="2.2" stroke-dasharray="4.6 6.67" fill="none"/>
<text x="187.8" y="590.4">Impairment</text>
<text x="197.5" y="848.2">Recovery</text>
<g stroke="#333" stroke-width="1.05" fill="none">
<path d="M503.0 69.5H935.2V719.0M510.5 69.5V719.0M510.5 711.5H935.2"/>
<path d="M503.0 681.0H510.5M503.0 558.6H510.5M503.0 436.2H510.5M503.0 313.8H510.5M503.0 191.4H510.5M510.5 711.5V719.0M595.4 711.5V719.0M680.4 711.5V719.0M765.3 711.5V719.0M850.2 711.5V719.0M935.2 711.5V719.0"/>
</g>
<path d="M510.7 681.1H935.2" stroke="#000" stroke-width="3.2" stroke-linecap="round" stroke-dasharray="0 8.09" fill="none"/>
<g fill="#90bff9" stroke="#4f4f4f" stroke-width="0.85">
<circle cx="782.3" cy="362.8" r="6.65"/>
<circle cx="701.6" cy="479.0" r="6.65"/>
<circle cx="871.5" cy="687.1" r="6.65"/>
<circle cx="926.7" cy="650.4" r="6.65"/>
<circle cx="548.7" cy="638.2" r="6.65"/>
<circle cx="731.3" cy="668.8" r="6.65"/>
<circle cx="680.4" cy="595.3" r="6.65"/>
<circle cx="565.7" cy="601.4" r="6.65"/>
<circle cx="654.9" cy="656.5" r="6.65"/>
<circle cx="837.5" cy="564.7" r="6.65"/>
<circle cx="616.7" cy="540.2" r="6.65"/>
<circle cx="540.2" cy="638.2" r="6.65"/>
<circle cx="519.0" cy="668.8" r="6.65"/>
<circle cx="722.8" cy="485.2" r="6.65"/>
<circle cx="807.8" cy="313.8" r="6.65"/>
<circle cx="722.8" cy="448.4" r="6.65"/>
<circle cx="608.2" cy="558.6" r="6.65"/>
<circle cx="565.7" cy="613.7" r="6.65"/>
<circle cx="718.6" cy="564.7" r="6.65"/>
<circle cx="756.8" cy="595.3" r="6.65"/>
<circle cx="574.2" cy="595.3" r="6.65"/>
<circle cx="739.8" cy="521.9" r="6.65"/>
<circle cx="812.0" cy="577.0" r="6.65"/>
<circle cx="557.2" cy="650.4" r="6.65"/>
<circle cx="722.8" cy="393.4" r="6.65"/>
<circle cx="586.9" cy="638.2" r="6.65"/>
<circle cx="671.9" cy="497.4" r="6.65"/>
<circle cx="795.0" cy="332.2" r="6.65"/>
<circle cx="756.8" cy="466.8" r="6.65"/>
<circle cx="701.6" cy="460.7" r="6.65"/>
<circle cx="684.6" cy="552.5" r="6.65"/>
<circle cx="727.1" cy="424.0" r="6.65"/>
<circle cx="782.3" cy="332.2" r="6.65"/>
<circle cx="557.2" cy="638.2" r="6.65"/>
<circle cx="582.7" cy="632.0" r="6.65"/>
<circle cx="846.0" cy="350.5" r="6.65"/>
<circle cx="595.4" cy="650.4" r="6.65"/>
<circle cx="574.2" cy="625.9" r="6.65"/>
<circle cx="705.8" cy="417.8" r="6.65"/>
<circle cx="705.8" cy="491.3" r="6.65"/>
<circle cx="654.9" cy="521.9" r="6.65"/>
<circle cx="773.8" cy="577.0" r="6.65"/>
<circle cx="595.4" cy="577.0" r="6.65"/>
<circle cx="654.9" cy="564.7" r="6.65"/>
<circle cx="833.2" cy="625.9" r="6.65"/>
<circle cx="629.4" cy="583.1" r="6.65"/>
<circle cx="612.4" cy="601.4" r="6.65"/>
<circle cx="841.7" cy="411.7" r="6.65"/>
<circle cx="676.1" cy="503.5" r="6.65"/>
<circle cx="790.8" cy="411.7" r="6.65"/>
<circle cx="612.4" cy="540.2" r="6.65"/>
<circle cx="688.9" cy="497.4" r="6.65"/>
<circle cx="871.5" cy="399.5" r="6.65"/>
<circle cx="574.2" cy="638.2" r="6.65"/>
<circle cx="625.2" cy="564.7" r="6.65"/>
<circle cx="773.8" cy="650.4" r="6.65"/>
<circle cx="531.7" cy="650.4" r="6.65"/>
<circle cx="548.7" cy="644.3" r="6.65"/>
<circle cx="599.7" cy="558.6" r="6.65"/>
<circle cx="744.1" cy="552.5" r="6.65"/>
<circle cx="786.5" cy="552.5" r="6.65"/>
<circle cx="731.3" cy="442.3" r="6.65"/>
<circle cx="739.8" cy="583.1" r="6.65"/>
<circle cx="727.1" cy="558.6" r="6.65"/>
<circle cx="854.5" cy="534.1" r="6.65"/>
<circle cx="722.8" cy="442.3" r="6.65"/>
<circle cx="909.7" cy="644.3" r="6.65"/>
<circle cx="807.8" cy="632.0" r="6.65"/>
<circle cx="646.4" cy="509.6" r="6.65"/>
<circle cx="540.2" cy="699.4" r="6.65"/>
<circle cx="659.1" cy="564.7" r="6.65"/>
<circle cx="544.5" cy="650.4" r="6.65"/>
<circle cx="591.2" cy="564.7" r="6.65"/>
<circle cx="846.0" cy="668.8" r="6.65"/>
<circle cx="841.7" cy="632.0" r="6.65"/>
<circle cx="710.1" cy="570.8" r="6.65"/>
<circle cx="765.3" cy="528.0" r="6.65"/>
<circle cx="799.3" cy="466.8" r="6.65"/>
<circle cx="833.2" cy="289.3" r="6.65"/>
<circle cx="591.2" cy="674.9" r="6.65"/>
<circle cx="714.3" cy="454.6" r="6.65"/>
<circle cx="824.7" cy="570.8" r="6.65"/>
<circle cx="837.5" cy="619.8" r="6.65"/>
<circle cx="896.9" cy="497.4" r="6.65"/>
<circle cx="841.7" cy="656.5" r="6.65"/>
<circle cx="599.7" cy="552.5" r="6.65"/>
<circle cx="620.9" cy="595.3" r="6.65"/>
<circle cx="782.3" cy="509.6" r="6.65"/>
<circle cx="637.9" cy="509.6" r="6.65"/>
<circle cx="854.5" cy="491.3" r="6.65"/>
<circle cx="527.5" cy="656.5" r="6.65"/>
<circle cx="867.2" cy="638.2" r="6.65"/>
<circle cx="553.0" cy="619.8" r="6.65"/>
<circle cx="786.5" cy="375.0" r="6.65"/>
<circle cx="807.8" cy="644.3" r="6.65"/>
<circle cx="735.6" cy="662.6" r="6.65"/>
<circle cx="790.8" cy="356.6" r="6.65"/>
<circle cx="705.8" cy="442.3" r="6.65"/>
<circle cx="578.4" cy="601.4" r="6.65"/>
<circle cx="782.3" cy="613.7" r="6.65"/>
<circle cx="790.8" cy="534.1" r="6.65"/>
<circle cx="620.9" cy="534.1" r="6.65"/>
</g>
<g fill="#ff8080" stroke="#4f4f4f" stroke-width="0.85">
<circle cx="654.9" cy="632.0" r="6.65"/>
<circle cx="905.4" cy="687.1" r="6.65"/>
<circle cx="922.4" cy="583.1" r="6.65"/>
<circle cx="846.0" cy="650.4" r="6.65"/>
<circle cx="935.2" cy="619.8" r="6.65"/>
<circle cx="892.7" cy="436.2" r="6.65"/>
<circle cx="829.0" cy="577.0" r="6.65"/>
<circle cx="858.7" cy="656.5" r="6.65"/>
<circle cx="684.6" cy="485.2" r="6.65"/>
<circle cx="850.2" cy="625.9" r="6.65"/>
<circle cx="901.2" cy="656.5" r="6.65"/>
<circle cx="884.2" cy="644.3" r="6.65"/>
<circle cx="918.2" cy="632.0" r="6.65"/>
<circle cx="867.2" cy="362.8" r="6.65"/>
<circle cx="884.2" cy="595.3" r="6.65"/>
<circle cx="935.2" cy="625.9" r="6.65"/>
<circle cx="871.5" cy="644.3" r="6.65"/>
<circle cx="829.0" cy="650.4" r="6.65"/>
<circle cx="786.5" cy="540.2" r="6.65"/>
<circle cx="935.2" cy="681.0" r="6.65"/>
<circle cx="570.0" cy="601.4" r="6.65"/>
<circle cx="935.2" cy="674.9" r="6.65"/>
<circle cx="901.2" cy="632.0" r="6.65"/>
<circle cx="918.2" cy="534.1" r="6.65"/>
<circle cx="875.7" cy="668.8" r="6.65"/>
<circle cx="752.6" cy="638.2" r="6.65"/>
<circle cx="837.5" cy="668.8" r="6.65"/>
<circle cx="701.6" cy="454.6" r="6.65"/>
<circle cx="901.2" cy="589.2" r="6.65"/>
<circle cx="875.7" cy="625.9" r="6.65"/>
<circle cx="913.9" cy="234.2" r="6.65"/>
<circle cx="884.2" cy="619.8" r="6.65"/>
<circle cx="867.2" cy="405.6" r="6.65"/>
<circle cx="854.5" cy="454.6" r="6.65"/>
<circle cx="896.9" cy="638.2" r="6.65"/>
<circle cx="544.5" cy="662.6" r="6.65"/>
<circle cx="884.2" cy="674.9" r="6.65"/>
<circle cx="930.9" cy="650.4" r="6.65"/>
<circle cx="875.7" cy="662.6" r="6.65"/>
<circle cx="884.2" cy="601.4" r="6.65"/>
<circle cx="935.2" cy="240.4" r="6.65"/>
<circle cx="863.0" cy="307.7" r="6.65"/>
<circle cx="935.2" cy="668.8" r="6.65"/>
<circle cx="752.6" cy="466.8" r="6.65"/>
<circle cx="846.0" cy="632.0" r="6.65"/>
<circle cx="829.0" cy="668.8" r="6.65"/>
<circle cx="863.0" cy="368.9" r="6.65"/>
<circle cx="790.8" cy="668.8" r="6.65"/>
<circle cx="935.2" cy="356.6" r="6.65"/>
<circle cx="667.6" cy="570.8" r="6.65"/>
<circle cx="807.8" cy="430.1" r="6.65"/>
<circle cx="905.4" cy="607.6" r="6.65"/>
<circle cx="858.7" cy="638.2" r="6.65"/>
<circle cx="773.8" cy="405.6" r="6.65"/>
<circle cx="935.2" cy="650.4" r="6.65"/>
<circle cx="731.3" cy="558.6" r="6.65"/>
<circle cx="739.8" cy="552.5" r="6.65"/>
<circle cx="769.5" cy="472.9" r="6.65"/>
<circle cx="892.7" cy="313.8" r="6.65"/>
<circle cx="752.6" cy="381.1" r="6.65"/>
<circle cx="930.9" cy="613.7" r="6.65"/>
<circle cx="863.0" cy="674.9" r="6.65"/>
<circle cx="875.7" cy="619.8" r="6.65"/>
<circle cx="629.4" cy="607.6" r="6.65"/>
<circle cx="833.2" cy="681.0" r="6.65"/>
<circle cx="850.2" cy="662.6" r="6.65"/>
<circle cx="935.2" cy="448.4" r="6.65"/>
<circle cx="807.8" cy="460.7" r="6.65"/>
<circle cx="854.5" cy="662.6" r="6.65"/>
<circle cx="871.5" cy="662.6" r="6.65"/>
<circle cx="905.4" cy="650.4" r="6.65"/>
<circle cx="901.2" cy="393.4" r="6.65"/>
<circle cx="833.2" cy="515.8" r="6.65"/>
<circle cx="688.9" cy="534.1" r="6.65"/>
<circle cx="854.5" cy="405.6" r="6.65"/>
<circle cx="913.9" cy="381.1" r="6.65"/>
<circle cx="875.7" cy="632.0" r="6.65"/>
<circle cx="612.4" cy="577.0" r="6.65"/>
<circle cx="693.1" cy="552.5" r="6.65"/>
<circle cx="735.6" cy="424.0" r="6.65"/>
<circle cx="782.3" cy="442.3" r="6.65"/>
<circle cx="896.9" cy="662.6" r="6.65"/>
<circle cx="875.7" cy="644.3" r="6.65"/>
<circle cx="744.1" cy="497.4" r="6.65"/>
<circle cx="858.7" cy="681.0" r="6.65"/>
<circle cx="841.7" cy="399.5" r="6.65"/>
</g>
<text x="501" y="689.8" text-anchor="end" font-size="25.2">0</text>
<text x="510.5" y="745.6" text-anchor="middle" font-size="25.2">0</text>
<text x="501" y="567.4" text-anchor="end" font-size="25.2">20</text>
<text x="595.4" y="745.6" text-anchor="middle" font-size="25.2">20</text>
<text x="501" y="445.0" text-anchor="end" font-size="25.2">40</text>
<text x="680.4" y="745.6" text-anchor="middle" font-size="25.2">40</text>
<text x="501" y="322.6" text-anchor="end" font-size="25.2">60</text>
<text x="765.3" y="745.6" text-anchor="middle" font-size="25.2">60</text>
<text x="501" y="200.2" text-anchor="end" font-size="25.2">80</text>
<text x="850.2" y="745.6" text-anchor="middle" font-size="25.2">80</text>
<text x="501" y="77.8" text-anchor="end" font-size="25.2">100</text>
<text x="935.2" y="745.6" text-anchor="middle" font-size="25.2">100</text>
<text x="722" y="786.3" text-anchor="middle">Initial impairment</text>
<text x="722" y="812.8" text-anchor="middle">(100 - Baseline total motor score)</text>
<text transform="translate(417.3 378) rotate(-90)" text-anchor="middle">Change</text>
<text transform="translate(443.6 378) rotate(-90)" text-anchor="middle">(Final - Baseline total motor score)</text>
<text x="571.6" y="27.8"><tspan font-style="italic">N</tspan> = 111 individuals</text>
<text x="571.6" y="54.5"><tspan font-style="italic">N</tspan> = 90 individuals</text>
<text x="787.1" y="27.8">MEP<tspan dy="-13.5" dx="-1.6" font-size="22.5" stroke="#000" stroke-width="0.9">+</tspan></text>
<text x="787.1" y="54.5">MEP<tspan dy="-13.5" dx="-1.6" font-size="22.5" stroke="#000" stroke-width="0.35">−</tspan></text>
<circle cx="579.5" cy="118.8" r="8" fill="#559dfb" stroke="#000" stroke-width="1.2"/>
<circle cx="579.5" cy="147.8" r="8" fill="#ff8080" stroke="#000" stroke-width="1.2"/>
<text x="598" y="127.1">MEP<tspan dy="-13.5" dx="-1.6" font-size="22.5" stroke="#000" stroke-width="0.9">+</tspan></text>
<text x="598" y="155.7">MEP<tspan dy="-13.5" dx="-1.6" font-size="22.5" stroke="#000" stroke-width="0.35">−</tspan></text>
<text x="690" y="97.7">Slope</text>
<text x="814.5" y="97.7" font-style="italic">P</text>
<text x="688.5" y="127.1">0.223</text>
<text x="775.5" y="127.1">&lt;0.0001</text>
<text x="681" y="155.7">-0.067</text>
<text x="788.3" y="155.7">0.492</text>
<defs>
<linearGradient id="gAB"><stop offset="0.4" stop-color="#f94040"/><stop offset="0.4" stop-color="#ff9e9e"/></linearGradient>
<linearGradient id="gCD"><stop offset="0.4" stop-color="#90bff9"/><stop offset="0.4" stop-color="#0000ff"/></linearGradient>
<linearGradient id="gAB2"><stop offset="0.47" stop-color="#f94040"/><stop offset="0.47" stop-color="#ff9e9e"/></linearGradient>
<linearGradient id="gBC"><stop offset="0.5" stop-color="#ff9e9e"/><stop offset="0.5" stop-color="#90bff9"/></linearGradient>
<linearGradient id="gCD2"><stop offset="0.5" stop-color="#90bff9"/><stop offset="0.5" stop-color="#0000ff"/></linearGradient>
</defs>
<g stroke="#000" stroke-width="1.6">
<circle cx="1144.4" cy="59.8" r="6.6" fill="#f94040"/>
<circle cx="1163.2" cy="59.8" r="6.6" fill="#f94040"/>
<circle cx="1181.9" cy="59.8" r="6.6" fill="#f94040"/>
<circle cx="1200.7" cy="59.8" r="6.6" fill="#f94040"/>
<circle cx="1219.5" cy="59.8" r="6.6" fill="#f94040"/>
<circle cx="1238.2" cy="59.8" r="6.6" fill="#f94040"/>
<circle cx="1257.0" cy="59.8" r="6.6" fill="#f94040"/>
<circle cx="1275.8" cy="59.8" r="6.6" fill="#f94040"/>
<circle cx="1294.6" cy="59.8" r="6.6" fill="#f94040"/>
<circle cx="1313.3" cy="59.8" r="6.6" fill="#f94040"/>
<circle cx="1144.4" cy="79.0" r="6.6" fill="#f94040"/>
<circle cx="1163.2" cy="79.0" r="6.6" fill="#f94040"/>
<circle cx="1181.9" cy="79.0" r="6.6" fill="#f94040"/>
<circle cx="1200.7" cy="79.0" r="6.6" fill="#f94040"/>
<circle cx="1219.5" cy="79.0" r="6.6" fill="#f94040"/>
<circle cx="1238.2" cy="79.0" r="6.6" fill="#f94040"/>
<circle cx="1257.0" cy="79.0" r="6.6" fill="#f94040"/>
<circle cx="1275.8" cy="79.0" r="6.6" fill="#f94040"/>
<circle cx="1294.6" cy="79.0" r="6.6" fill="#f94040"/>
<circle cx="1313.3" cy="79.0" r="6.6" fill="#f94040"/>
<circle cx="1144.4" cy="98.2" r="6.6" fill="#f94040"/>
<circle cx="1163.2" cy="98.2" r="6.6" fill="#f94040"/>
<circle cx="1181.9" cy="98.2" r="6.6" fill="#f94040"/>
<circle cx="1200.7" cy="98.2" r="6.6" fill="#f94040"/>
<circle cx="1219.5" cy="98.2" r="6.6" fill="#f94040"/>
<circle cx="1238.2" cy="98.2" r="6.6" fill="#f94040"/>
<circle cx="1257.0" cy="98.2" r="6.6" fill="#f94040"/>
<circle cx="1275.8" cy="98.2" r="6.6" fill="#f94040"/>
<circle cx="1294.6" cy="98.2" r="6.6" fill="#f94040"/>
<circle cx="1313.3" cy="98.2" r="6.6" fill="#f94040"/>
<circle cx="1144.4" cy="117.4" r="6.6" fill="#f94040"/>
<circle cx="1163.2" cy="117.4" r="6.6" fill="#f94040"/>
<circle cx="1181.9" cy="117.4" r="6.6" fill="#f94040"/>
<circle cx="1200.7" cy="117.4" r="6.6" fill="#f94040"/>
<circle cx="1219.5" cy="117.4" r="6.6" fill="#f94040"/>
<circle cx="1238.2" cy="117.4" r="6.6" fill="#f94040"/>
<circle cx="1257.0" cy="117.4" r="6.6" fill="#f94040"/>
<circle cx="1275.8" cy="117.4" r="6.6" fill="#f94040"/>
<circle cx="1294.6" cy="117.4" r="6.6" fill="#f94040"/>
<circle cx="1313.3" cy="117.4" r="6.6" fill="#f94040"/>
<circle cx="1144.4" cy="136.6" r="6.6" fill="#f94040"/>
<circle cx="1163.2" cy="136.6" r="6.6" fill="#f94040"/>
<circle cx="1181.9" cy="136.6" r="6.6" fill="#f94040"/>
<circle cx="1200.7" cy="136.6" r="6.6" fill="#f94040"/>
<circle cx="1219.5" cy="136.6" r="6.6" fill="url(#gAB)"/>
<circle cx="1238.2" cy="136.6" r="6.6" fill="#ff9e9e"/>
<circle cx="1257.0" cy="136.6" r="6.6" fill="#ff9e9e"/>
<circle cx="1275.8" cy="136.6" r="6.6" fill="#ff9e9e"/>
<circle cx="1294.6" cy="136.6" r="6.6" fill="#ff9e9e"/>
<circle cx="1313.3" cy="136.6" r="6.6" fill="#ff9e9e"/>
<circle cx="1144.4" cy="155.8" r="6.6" fill="#ff9e9e"/>
<circle cx="1163.2" cy="155.8" r="6.6" fill="#ff9e9e"/>
<circle cx="1181.9" cy="155.8" r="6.6" fill="#ff9e9e"/>
<circle cx="1200.7" cy="155.8" r="6.6" fill="#ff9e9e"/>
<circle cx="1219.5" cy="155.8" r="6.6" fill="#ff9e9e"/>
<circle cx="1238.2" cy="155.8" r="6.6" fill="#ff9e9e"/>
<circle cx="1257.0" cy="155.8" r="6.6" fill="#ff9e9e"/>
<circle cx="1275.8" cy="155.8" r="6.6" fill="#ff9e9e"/>
<circle cx="1294.6" cy="155.8" r="6.6" fill="#ff9e9e"/>
<circle cx="1313.3" cy="155.8" r="6.6" fill="#ff9e9e"/>
<circle cx="1144.4" cy="175.0" r="6.6" fill="#ff9e9e"/>
<circle cx="1163.2" cy="175.0" r="6.6" fill="#ff9e9e"/>
<circle cx="1181.9" cy="175.0" r="6.6" fill="#ff9e9e"/>
<circle cx="1200.7" cy="175.0" r="6.6" fill="#ff9e9e"/>
<circle cx="1219.5" cy="175.0" r="6.6" fill="#ff9e9e"/>
<circle cx="1238.2" cy="175.0" r="6.6" fill="#ff9e9e"/>
<circle cx="1257.0" cy="175.0" r="6.6" fill="#ff9e9e"/>
<circle cx="1275.8" cy="175.0" r="6.6" fill="#ff9e9e"/>
<circle cx="1294.6" cy="175.0" r="6.6" fill="#ff9e9e"/>
<circle cx="1313.3" cy="175.0" r="6.6" fill="#90bff9"/>
<circle cx="1144.4" cy="194.2" r="6.6" fill="#90bff9"/>
<circle cx="1163.2" cy="194.2" r="6.6" fill="#90bff9"/>
<circle cx="1181.9" cy="194.2" r="6.6" fill="#90bff9"/>
<circle cx="1200.7" cy="194.2" r="6.6" fill="#90bff9"/>
<circle cx="1219.5" cy="194.2" r="6.6" fill="#90bff9"/>
<circle cx="1238.2" cy="194.2" r="6.6" fill="#90bff9"/>
<circle cx="1257.0" cy="194.2" r="6.6" fill="#90bff9"/>
<circle cx="1275.8" cy="194.2" r="6.6" fill="#90bff9"/>
<circle cx="1294.6" cy="194.2" r="6.6" fill="#90bff9"/>
<circle cx="1313.3" cy="194.2" r="6.6" fill="#90bff9"/>
<circle cx="1144.4" cy="213.4" r="6.6" fill="#90bff9"/>
<circle cx="1163.2" cy="213.4" r="6.6" fill="#90bff9"/>
<circle cx="1181.9" cy="213.4" r="6.6" fill="#90bff9"/>
<circle cx="1200.7" cy="213.4" r="6.6" fill="#90bff9"/>
<circle cx="1219.5" cy="213.4" r="6.6" fill="#90bff9"/>
<circle cx="1238.2" cy="213.4" r="6.6" fill="#90bff9"/>
<circle cx="1257.0" cy="213.4" r="6.6" fill="url(#gCD)"/>
<circle cx="1275.8" cy="213.4" r="6.6" fill="#0000ff"/>
<circle cx="1294.6" cy="213.4" r="6.6" fill="#0000ff"/>
<circle cx="1313.3" cy="213.4" r="6.6" fill="#0000ff"/>
<circle cx="1144.4" cy="232.6" r="6.6" fill="#0000ff"/>
<circle cx="1163.2" cy="232.6" r="6.6" fill="#0000ff"/>
<circle cx="1181.9" cy="232.6" r="6.6" fill="#0000ff"/>
<circle cx="1200.7" cy="232.6" r="6.6" fill="#0000ff"/>
<circle cx="1219.5" cy="232.6" r="6.6" fill="#0000ff"/>
<circle cx="1238.2" cy="232.6" r="6.6" fill="#0000ff"/>
<circle cx="1257.0" cy="232.6" r="6.6" fill="#0000ff"/>
<circle cx="1275.8" cy="232.6" r="6.6" fill="#0000ff"/>
<circle cx="1294.6" cy="232.6" r="6.6" fill="#0000ff"/>
<circle cx="1313.3" cy="232.6" r="6.6" fill="#0000ff"/>
</g>
<g stroke="#000" stroke-width="1.6">
<circle cx="1145.2" cy="503.2" r="6.6" fill="#f94040"/>
<circle cx="1164.0" cy="503.2" r="6.6" fill="#f94040"/>
<circle cx="1182.7" cy="503.2" r="6.6" fill="#f94040"/>
<circle cx="1201.5" cy="503.2" r="6.6" fill="#f94040"/>
<circle cx="1220.3" cy="503.2" r="6.6" fill="#f94040"/>
<circle cx="1239.0" cy="503.2" r="6.6" fill="#f94040"/>
<circle cx="1257.8" cy="503.2" r="6.6" fill="#f94040"/>
<circle cx="1276.6" cy="503.2" r="6.6" fill="#f94040"/>
<circle cx="1295.4" cy="503.2" r="6.6" fill="#f94040"/>
<circle cx="1314.1" cy="503.2" r="6.6" fill="#f94040"/>
<circle cx="1145.2" cy="522.4" r="6.6" fill="#f94040"/>
<circle cx="1164.0" cy="522.4" r="6.6" fill="#f94040"/>
<circle cx="1182.7" cy="522.4" r="6.6" fill="#f94040"/>
<circle cx="1201.5" cy="522.4" r="6.6" fill="#f94040"/>
<circle cx="1220.3" cy="522.4" r="6.6" fill="url(#gAB2)"/>
<circle cx="1239.0" cy="522.4" r="6.6" fill="#ff9e9e"/>
<circle cx="1257.8" cy="522.4" r="6.6" fill="#ff9e9e"/>
<circle cx="1276.6" cy="522.4" r="6.6" fill="#ff9e9e"/>
<circle cx="1295.4" cy="522.4" r="6.6" fill="#ff9e9e"/>
<circle cx="1314.1" cy="522.4" r="6.6" fill="#ff9e9e"/>
<circle cx="1145.2" cy="541.6" r="6.6" fill="#ff9e9e"/>
<circle cx="1164.0" cy="541.6" r="6.6" fill="#ff9e9e"/>
<circle cx="1182.7" cy="541.6" r="6.6" fill="url(#gBC)"/>
<circle cx="1201.5" cy="541.6" r="6.6" fill="#90bff9"/>
<circle cx="1220.3" cy="541.6" r="6.6" fill="#90bff9"/>
<circle cx="1239.0" cy="541.6" r="6.6" fill="#90bff9"/>
<circle cx="1257.8" cy="541.6" r="6.6" fill="#90bff9"/>
<circle cx="1276.6" cy="541.6" r="6.6" fill="#90bff9"/>
<circle cx="1295.4" cy="541.6" r="6.6" fill="#90bff9"/>
<circle cx="1314.1" cy="541.6" r="6.6" fill="#90bff9"/>
<circle cx="1145.2" cy="560.8" r="6.6" fill="#90bff9"/>
<circle cx="1164.0" cy="560.8" r="6.6" fill="#90bff9"/>
<circle cx="1182.7" cy="560.8" r="6.6" fill="#90bff9"/>
<circle cx="1201.5" cy="560.8" r="6.6" fill="#90bff9"/>
<circle cx="1220.3" cy="560.8" r="6.6" fill="#90bff9"/>
<circle cx="1239.0" cy="560.8" r="6.6" fill="#90bff9"/>
<circle cx="1257.8" cy="560.8" r="6.6" fill="#90bff9"/>
<circle cx="1276.6" cy="560.8" r="6.6" fill="#90bff9"/>
<circle cx="1295.4" cy="560.8" r="6.6" fill="#90bff9"/>
<circle cx="1314.1" cy="560.8" r="6.6" fill="#90bff9"/>
<circle cx="1145.2" cy="580.0" r="6.6" fill="#90bff9"/>
<circle cx="1164.0" cy="580.0" r="6.6" fill="#90bff9"/>
<circle cx="1182.7" cy="580.0" r="6.6" fill="#90bff9"/>
<circle cx="1201.5" cy="580.0" r="6.6" fill="#90bff9"/>
<circle cx="1220.3" cy="580.0" r="6.6" fill="#90bff9"/>
<circle cx="1239.0" cy="580.0" r="6.6" fill="#90bff9"/>
<circle cx="1257.8" cy="580.0" r="6.6" fill="#90bff9"/>
<circle cx="1276.6" cy="580.0" r="6.6" fill="url(#gCD2)"/>
<circle cx="1295.4" cy="580.0" r="6.6" fill="#0000ff"/>
<circle cx="1314.1" cy="580.0" r="6.6" fill="#0000ff"/>
<circle cx="1145.2" cy="599.2" r="6.6" fill="#0000ff"/>
<circle cx="1164.0" cy="599.2" r="6.6" fill="#0000ff"/>
<circle cx="1182.7" cy="599.2" r="6.6" fill="#0000ff"/>
<circle cx="1201.5" cy="599.2" r="6.6" fill="#0000ff"/>
<circle cx="1220.3" cy="599.2" r="6.6" fill="#0000ff"/>
<circle cx="1239.0" cy="599.2" r="6.6" fill="#0000ff"/>
<circle cx="1257.8" cy="599.2" r="6.6" fill="#0000ff"/>
<circle cx="1276.6" cy="599.2" r="6.6" fill="#0000ff"/>
<circle cx="1295.4" cy="599.2" r="6.6" fill="#0000ff"/>
<circle cx="1314.1" cy="599.2" r="6.6" fill="#0000ff"/>
<circle cx="1145.2" cy="618.4" r="6.6" fill="#0000ff"/>
<circle cx="1164.0" cy="618.4" r="6.6" fill="#0000ff"/>
<circle cx="1182.7" cy="618.4" r="6.6" fill="#0000ff"/>
<circle cx="1201.5" cy="618.4" r="6.6" fill="#0000ff"/>
<circle cx="1220.3" cy="618.4" r="6.6" fill="#0000ff"/>
<circle cx="1239.0" cy="618.4" r="6.6" fill="#0000ff"/>
<circle cx="1257.8" cy="618.4" r="6.6" fill="#0000ff"/>
<circle cx="1276.6" cy="618.4" r="6.6" fill="#0000ff"/>
<circle cx="1295.4" cy="618.4" r="6.6" fill="#0000ff"/>
<circle cx="1314.1" cy="618.4" r="6.6" fill="#0000ff"/>
<circle cx="1145.2" cy="637.6" r="6.6" fill="#0000ff"/>
<circle cx="1164.0" cy="637.6" r="6.6" fill="#0000ff"/>
<circle cx="1182.7" cy="637.6" r="6.6" fill="#0000ff"/>
<circle cx="1201.5" cy="637.6" r="6.6" fill="#0000ff"/>
<circle cx="1220.3" cy="637.6" r="6.6" fill="#0000ff"/>
<circle cx="1239.0" cy="637.6" r="6.6" fill="#0000ff"/>
<circle cx="1257.8" cy="637.6" r="6.6" fill="#0000ff"/>
<circle cx="1276.6" cy="637.6" r="6.6" fill="#0000ff"/>
<circle cx="1295.4" cy="637.6" r="6.6" fill="#0000ff"/>
<circle cx="1314.1" cy="637.6" r="6.6" fill="#0000ff"/>
<circle cx="1145.2" cy="656.8" r="6.6" fill="#0000ff"/>
<circle cx="1164.0" cy="656.8" r="6.6" fill="#0000ff"/>
<circle cx="1182.7" cy="656.8" r="6.6" fill="#0000ff"/>
<circle cx="1201.5" cy="656.8" r="6.6" fill="#0000ff"/>
<circle cx="1220.3" cy="656.8" r="6.6" fill="#0000ff"/>
<circle cx="1239.0" cy="656.8" r="6.6" fill="#0000ff"/>
<circle cx="1257.8" cy="656.8" r="6.6" fill="#0000ff"/>
<circle cx="1276.6" cy="656.8" r="6.6" fill="#0000ff"/>
<circle cx="1295.4" cy="656.8" r="6.6" fill="#0000ff"/>
<circle cx="1314.1" cy="656.8" r="6.6" fill="#0000ff"/>
<circle cx="1145.2" cy="676.0" r="6.6" fill="#0000ff"/>
<circle cx="1164.0" cy="676.0" r="6.6" fill="#0000ff"/>
<circle cx="1182.7" cy="676.0" r="6.6" fill="#0000ff"/>
<circle cx="1201.5" cy="676.0" r="6.6" fill="#0000ff"/>
<circle cx="1220.3" cy="676.0" r="6.6" fill="#0000ff"/>
<circle cx="1239.0" cy="676.0" r="6.6" fill="#0000ff"/>
<circle cx="1257.8" cy="676.0" r="6.6" fill="#0000ff"/>
<circle cx="1276.6" cy="676.0" r="6.6" fill="#0000ff"/>
<circle cx="1295.4" cy="676.0" r="6.6" fill="#0000ff"/>
<circle cx="1314.1" cy="676.0" r="6.6" fill="#0000ff"/>
</g>
<text x="1139.2" y="39.5">MEP<tspan dy="-13" dx="1" font-size="22.5" stroke="#000" stroke-width="0.35">−</tspan><tspan dy="13" dx="0"> (baseline)</tspan></text>
<text x="1140.4" y="482.9">MEP<tspan dy="-14" dx="-0.6" font-size="22.5" stroke="#000" stroke-width="0.9">+</tspan><tspan dy="14" dx="-0.6"> (baseline)</tspan></text>
<rect x="1108.5" y="253.8" width="230.7" height="173.1" rx="13" fill="#000" opacity="0.56" filter="url(#sh)"/>
<rect x="1113.5" y="250.20000000000002" width="230.7" height="173.1" rx="12" fill="#fff" stroke="#000" stroke-width="1.35"/>
<circle cx="1142.6" cy="288.5" r="8" fill="#f94040" stroke="#000" stroke-width="1.2"/>
<text x="1164.1" y="297.2">AIS A (44.4%)</text>
<circle cx="1142.6" cy="321.6" r="8" fill="#ff9e9e" stroke="#000" stroke-width="1.2"/>
<text x="1164.1" y="330.3">AIS B (24.4%)</text>
<circle cx="1142.6" cy="354.7" r="8" fill="#90bff9" stroke="#000" stroke-width="1.2"/>
<text x="1164.1" y="363.4">AIS C (17.8%)</text>
<circle cx="1142.6" cy="387.8" r="8" fill="#0000ff" stroke="#000" stroke-width="1.2"/>
<text x="1164.1" y="396.5">AIS D (13.3%)</text>
<rect x="1108.5" y="699.7" width="230.7" height="173.1" rx="13" fill="#000" opacity="0.56" filter="url(#sh)"/>
<rect x="1113.5" y="696.1" width="230.7" height="173.1" rx="12" fill="#fff" stroke="#000" stroke-width="1.35"/>
<circle cx="1142.6" cy="731.8" r="8" fill="#f94040" stroke="#000" stroke-width="1.2"/>
<text x="1163.8" y="740.5">AIS A (14.4%)</text>
<circle cx="1142.6" cy="764.9" r="8" fill="#ff9e9e" stroke="#000" stroke-width="1.2"/>
<text x="1163.8" y="773.6">AIS B (8.1%)</text>
<circle cx="1142.6" cy="798.0" r="8" fill="#90bff9" stroke="#000" stroke-width="1.2"/>
<text x="1163.8" y="806.7">AIS C (25.2%)</text>
<circle cx="1142.6" cy="831.1" r="8" fill="#0000ff" stroke="#000" stroke-width="1.2"/>
<text x="1163.8" y="839.8">AIS D (52.2%)</text>
<g stroke="#6c6c6c" stroke-width="1.2" fill="none">
<path d="M1541.0 69.3H1972.9V718.8M1548.5 69.3V718.8M1548.5 711.3H1972.9"/>
<path d="M1541.0 686.1H1548.5M1541.0 583.3H1548.5M1541.0 480.5H1548.5M1541.0 377.7H1548.5M1541.0 274.9H1548.5M1541.0 172.1H1548.5M1548.2 711.3V718.8M1633.1 711.3V718.8M1718.1 711.3V718.8M1803.0 711.3V718.8M1887.9 711.3V718.8M1972.9 711.3V718.8"/>
</g>
<path d="M1556.5 583.4H1972.9" stroke="#000" stroke-width="3.2" stroke-linecap="round" stroke-dasharray="0 8.09" fill="none"/>
<g fill="#90bff9" stroke="#4f4f4f" stroke-width="0.85">
<circle cx="1675.6" cy="444.5" r="6.65"/>
<circle cx="1752.0" cy="470.2" r="6.65"/>
<circle cx="1633.1" cy="552.5" r="6.65"/>
<circle cx="1790.3" cy="403.4" r="6.65"/>
<circle cx="1692.6" cy="449.7" r="6.65"/>
<circle cx="1692.6" cy="537.0" r="6.65"/>
<circle cx="1870.9" cy="470.2" r="6.65"/>
<circle cx="1879.4" cy="511.3" r="6.65"/>
<circle cx="1752.0" cy="475.4" r="6.65"/>
<circle cx="1747.8" cy="490.8" r="6.65"/>
<circle cx="1658.6" cy="511.3" r="6.65"/>
<circle cx="1951.6" cy="187.5" r="6.65"/>
<circle cx="1726.6" cy="418.8" r="6.65"/>
<circle cx="1909.2" cy="346.9" r="6.65"/>
<circle cx="1786.0" cy="352.0" r="6.65"/>
<circle cx="1760.5" cy="418.8" r="6.65"/>
<circle cx="1713.8" cy="490.8" r="6.65"/>
<circle cx="1794.5" cy="403.4" r="6.65"/>
<circle cx="1887.9" cy="300.6" r="6.65"/>
<circle cx="1832.7" cy="583.3" r="6.65"/>
<circle cx="1692.6" cy="562.7" r="6.65"/>
<circle cx="1735.0" cy="470.2" r="6.65"/>
<circle cx="1633.1" cy="531.9" r="6.65"/>
<circle cx="1777.5" cy="372.6" r="6.65"/>
<circle cx="1628.9" cy="526.8" r="6.65"/>
<circle cx="1671.3" cy="434.2" r="6.65"/>
<circle cx="1862.4" cy="424.0" r="6.65"/>
<circle cx="1675.6" cy="439.4" r="6.65"/>
<circle cx="1921.9" cy="531.9" r="6.65"/>
<circle cx="1603.4" cy="567.9" r="6.65"/>
<circle cx="1900.7" cy="269.8" r="6.65"/>
<circle cx="1837.0" cy="686.1" r="6.65"/>
<circle cx="1803.0" cy="454.8" r="6.65"/>
<circle cx="1548.2" cy="583.3" r="6.65"/>
<circle cx="1662.9" cy="526.8" r="6.65"/>
<circle cx="1650.1" cy="470.2" r="6.65"/>
<circle cx="1807.2" cy="573.0" r="6.65"/>
<circle cx="1964.4" cy="238.9" r="6.65"/>
<circle cx="1870.9" cy="444.5" r="6.65"/>
<circle cx="1599.2" cy="537.0" r="6.65"/>
<circle cx="1582.2" cy="552.5" r="6.65"/>
<circle cx="1824.2" cy="531.9" r="6.65"/>
<circle cx="1650.1" cy="516.5" r="6.65"/>
<circle cx="1824.2" cy="459.9" r="6.65"/>
<circle cx="1900.7" cy="310.9" r="6.65"/>
<circle cx="1650.1" cy="485.6" r="6.65"/>
<circle cx="1790.3" cy="331.4" r="6.65"/>
<circle cx="1883.7" cy="305.7" r="6.65"/>
<circle cx="1726.6" cy="429.1" r="6.65"/>
<circle cx="1892.2" cy="264.6" r="6.65"/>
<circle cx="1769.0" cy="459.9" r="6.65"/>
<circle cx="1798.7" cy="485.6" r="6.65"/>
<circle cx="1883.7" cy="218.4" r="6.65"/>
<circle cx="1896.4" cy="501.1" r="6.65"/>
<circle cx="1743.5" cy="424.0" r="6.65"/>
<circle cx="1951.6" cy="208.1" r="6.65"/>
<circle cx="1781.8" cy="490.8" r="6.65"/>
<circle cx="1853.9" cy="521.6" r="6.65"/>
<circle cx="1577.9" cy="547.3" r="6.65"/>
<circle cx="1611.9" cy="547.3" r="6.65"/>
<circle cx="1943.1" cy="151.5" r="6.65"/>
<circle cx="1879.4" cy="490.8" r="6.65"/>
<circle cx="1582.2" cy="573.0" r="6.65"/>
<circle cx="1654.4" cy="465.1" r="6.65"/>
<circle cx="1913.4" cy="362.3" r="6.65"/>
<circle cx="1713.8" cy="434.2" r="6.65"/>
<circle cx="1892.2" cy="249.2" r="6.65"/>
<circle cx="1870.9" cy="254.3" r="6.65"/>
<circle cx="1904.9" cy="310.9" r="6.65"/>
<circle cx="1735.0" cy="388.0" r="6.65"/>
<circle cx="1904.9" cy="495.9" r="6.65"/>
<circle cx="1637.4" cy="480.5" r="6.65"/>
<circle cx="1611.9" cy="511.3" r="6.65"/>
<circle cx="1692.6" cy="408.5" r="6.65"/>
<circle cx="1730.8" cy="485.6" r="6.65"/>
<circle cx="1662.9" cy="552.5" r="6.65"/>
<circle cx="1701.1" cy="439.4" r="6.65"/>
<circle cx="1921.9" cy="413.7" r="6.65"/>
<circle cx="1875.2" cy="326.3" r="6.65"/>
<circle cx="1726.6" cy="372.6" r="6.65"/>
<circle cx="1960.1" cy="501.1" r="6.65"/>
<circle cx="1650.1" cy="495.9" r="6.65"/>
<circle cx="1900.7" cy="352.0" r="6.65"/>
<circle cx="1892.2" cy="475.4" r="6.65"/>
<circle cx="1675.6" cy="480.5" r="6.65"/>
<circle cx="1586.4" cy="547.3" r="6.65"/>
<circle cx="1845.5" cy="280.0" r="6.65"/>
<circle cx="1607.7" cy="511.3" r="6.65"/>
<circle cx="1752.0" cy="454.8" r="6.65"/>
<circle cx="1620.4" cy="531.9" r="6.65"/>
<circle cx="1658.6" cy="526.8" r="6.65"/>
<circle cx="1786.0" cy="398.3" r="6.65"/>
<circle cx="1862.4" cy="346.9" r="6.65"/>
<circle cx="1824.2" cy="475.4" r="6.65"/>
<circle cx="1773.3" cy="413.7" r="6.65"/>
<circle cx="1743.5" cy="362.3" r="6.65"/>
<circle cx="1760.5" cy="424.0" r="6.65"/>
<circle cx="1798.7" cy="439.4" r="6.65"/>
<circle cx="1577.9" cy="557.6" r="6.65"/>
<circle cx="1616.1" cy="501.1" r="6.65"/>
<circle cx="1790.3" cy="326.3" r="6.65"/>
<circle cx="1679.8" cy="439.4" r="6.65"/>
<circle cx="1701.1" cy="403.4" r="6.65"/>
<circle cx="1582.2" cy="639.8" r="6.65"/>
<circle cx="1590.7" cy="531.9" r="6.65"/>
<circle cx="1658.6" cy="459.9" r="6.65"/>
<circle cx="1790.3" cy="511.3" r="6.65"/>
<circle cx="1862.4" cy="310.9" r="6.65"/>
<circle cx="1696.8" cy="403.4" r="6.65"/>
<circle cx="1675.6" cy="490.8" r="6.65"/>
<circle cx="1760.5" cy="346.9" r="6.65"/>
<circle cx="1807.2" cy="408.5" r="6.65"/>
<circle cx="1913.4" cy="341.7" r="6.65"/>
<circle cx="1594.9" cy="562.7" r="6.65"/>
<circle cx="1594.9" cy="547.3" r="6.65"/>
<circle cx="1688.3" cy="501.1" r="6.65"/>
<circle cx="1832.7" cy="377.7" r="6.65"/>
<circle cx="1667.1" cy="501.1" r="6.65"/>
<circle cx="1824.2" cy="537.0" r="6.65"/>
<circle cx="1556.7" cy="573.0" r="6.65"/>
<circle cx="1730.8" cy="531.9" r="6.65"/>
<circle cx="1883.7" cy="583.3" r="6.65"/>
<circle cx="1892.2" cy="470.2" r="6.65"/>
<circle cx="1786.0" cy="567.9" r="6.65"/>
<circle cx="1620.4" cy="490.8" r="6.65"/>
<circle cx="1641.6" cy="495.9" r="6.65"/>
<circle cx="1628.9" cy="485.6" r="6.65"/>
<circle cx="1696.8" cy="429.1" r="6.65"/>
<circle cx="1930.4" cy="516.5" r="6.65"/>
<circle cx="1662.9" cy="459.9" r="6.65"/>
<circle cx="1845.5" cy="274.9" r="6.65"/>
<circle cx="1900.7" cy="382.8" r="6.65"/>
<circle cx="1696.8" cy="439.4" r="6.65"/>
<circle cx="1752.0" cy="372.6" r="6.65"/>
<circle cx="1582.2" cy="562.7" r="6.65"/>
<circle cx="1773.3" cy="367.4" r="6.65"/>
<circle cx="1803.0" cy="573.0" r="6.65"/>
<circle cx="1777.5" cy="501.1" r="6.65"/>
<circle cx="1879.4" cy="593.6" r="6.65"/>
<circle cx="1934.6" cy="429.1" r="6.65"/>
<circle cx="1769.0" cy="480.5" r="6.65"/>
<circle cx="1853.9" cy="259.5" r="6.65"/>
<circle cx="1735.0" cy="408.5" r="6.65"/>
<circle cx="1611.9" cy="537.0" r="6.65"/>
<circle cx="1764.8" cy="367.4" r="6.65"/>
<circle cx="1870.9" cy="352.0" r="6.65"/>
<circle cx="1726.6" cy="459.9" r="6.65"/>
<circle cx="1930.4" cy="475.4" r="6.65"/>
<circle cx="1569.4" cy="593.6" r="6.65"/>
<circle cx="1972.9" cy="192.7" r="6.65"/>
<circle cx="1701.1" cy="429.1" r="6.65"/>
<circle cx="1964.4" cy="413.7" r="6.65"/>
<circle cx="1624.6" cy="547.3" r="6.65"/>
<circle cx="1705.3" cy="413.7" r="6.65"/>
<circle cx="1667.1" cy="521.6" r="6.65"/>
<circle cx="1709.6" cy="583.3" r="6.65"/>
<circle cx="1599.2" cy="531.9" r="6.65"/>
<circle cx="1671.3" cy="470.2" r="6.65"/>
<circle cx="1964.4" cy="511.3" r="6.65"/>
<circle cx="1726.6" cy="367.4" r="6.65"/>
<circle cx="1743.5" cy="449.7" r="6.65"/>
<circle cx="1747.8" cy="434.2" r="6.65"/>
<circle cx="1565.2" cy="562.7" r="6.65"/>
<circle cx="1764.8" cy="531.9" r="6.65"/>
<circle cx="1684.1" cy="495.9" r="6.65"/>
<circle cx="1628.9" cy="593.6" r="6.65"/>
<circle cx="1900.7" cy="598.7" r="6.65"/>
<circle cx="1853.9" cy="305.7" r="6.65"/>
<circle cx="1968.6" cy="228.6" r="6.65"/>
<circle cx="1781.8" cy="372.6" r="6.65"/>
<circle cx="1955.9" cy="459.9" r="6.65"/>
<circle cx="1679.8" cy="578.2" r="6.65"/>
<circle cx="1917.6" cy="408.5" r="6.65"/>
<circle cx="1875.2" cy="511.3" r="6.65"/>
<circle cx="1820.0" cy="547.3" r="6.65"/>
<circle cx="1637.4" cy="475.4" r="6.65"/>
<circle cx="1764.8" cy="372.6" r="6.65"/>
<circle cx="1594.9" cy="557.6" r="6.65"/>
<circle cx="1760.5" cy="655.3" r="6.65"/>
<circle cx="1926.1" cy="449.7" r="6.65"/>
<circle cx="1811.5" cy="475.4" r="6.65"/>
<circle cx="1832.7" cy="290.3" r="6.65"/>
<circle cx="1739.3" cy="537.0" r="6.65"/>
<circle cx="1662.9" cy="521.6" r="6.65"/>
<circle cx="1624.6" cy="609.0" r="6.65"/>
<circle cx="1892.2" cy="573.0" r="6.65"/>
<circle cx="1739.3" cy="382.8" r="6.65"/>
<circle cx="1637.4" cy="526.8" r="6.65"/>
<circle cx="1607.7" cy="573.0" r="6.65"/>
<circle cx="1735.0" cy="485.6" r="6.65"/>
<circle cx="1739.3" cy="449.7" r="6.65"/>
<circle cx="1722.3" cy="475.4" r="6.65"/>
<circle cx="1769.0" cy="346.9" r="6.65"/>
<circle cx="1777.5" cy="449.7" r="6.65"/>
<circle cx="1633.1" cy="557.6" r="6.65"/>
<circle cx="1743.5" cy="516.5" r="6.65"/>
<circle cx="1718.1" cy="449.7" r="6.65"/>
<circle cx="1739.3" cy="372.6" r="6.65"/>
<circle cx="1628.9" cy="578.2" r="6.65"/>
<circle cx="1900.7" cy="321.2" r="6.65"/>
<circle cx="1616.1" cy="521.6" r="6.65"/>
<circle cx="1739.3" cy="424.0" r="6.65"/>
<circle cx="1828.5" cy="372.6" r="6.65"/>
<circle cx="1684.1" cy="444.5" r="6.65"/>
<circle cx="1739.3" cy="367.4" r="6.65"/>
<circle cx="1675.6" cy="449.7" r="6.65"/>
<circle cx="1811.5" cy="362.3" r="6.65"/>
<circle cx="1832.7" cy="429.1" r="6.65"/>
<circle cx="1718.1" cy="470.2" r="6.65"/>
<circle cx="1824.2" cy="465.1" r="6.65"/>
<circle cx="1909.2" cy="388.0" r="6.65"/>
<circle cx="1760.5" cy="388.0" r="6.65"/>
<circle cx="1641.6" cy="516.5" r="6.65"/>
<circle cx="1866.7" cy="403.4" r="6.65"/>
<circle cx="1709.6" cy="429.1" r="6.65"/>
<circle cx="1603.4" cy="526.8" r="6.65"/>
<circle cx="1730.8" cy="393.1" r="6.65"/>
<circle cx="1764.8" cy="439.4" r="6.65"/>
<circle cx="1794.5" cy="454.8" r="6.65"/>
<circle cx="1599.2" cy="578.2" r="6.65"/>
<circle cx="1705.3" cy="465.1" r="6.65"/>
<circle cx="1883.7" cy="377.7" r="6.65"/>
<circle cx="1951.6" cy="331.4" r="6.65"/>
<circle cx="1667.1" cy="485.6" r="6.65"/>
<circle cx="1760.5" cy="341.7" r="6.65"/>
<circle cx="1662.9" cy="470.2" r="6.65"/>
<circle cx="1862.4" cy="490.8" r="6.65"/>
<circle cx="1900.7" cy="511.3" r="6.65"/>
<circle cx="1926.1" cy="326.3" r="6.65"/>
<circle cx="1853.9" cy="542.2" r="6.65"/>
<circle cx="1616.1" cy="526.8" r="6.65"/>
<circle cx="1951.6" cy="434.2" r="6.65"/>
<circle cx="1577.9" cy="598.7" r="6.65"/>
<circle cx="1972.9" cy="434.2" r="6.65"/>
<circle cx="1904.9" cy="316.0" r="6.65"/>
<circle cx="1756.3" cy="382.8" r="6.65"/>
<circle cx="1837.0" cy="485.6" r="6.65"/>
<circle cx="1934.6" cy="511.3" r="6.65"/>
<circle cx="1815.7" cy="562.7" r="6.65"/>
<circle cx="1569.4" cy="557.6" r="6.65"/>
<circle cx="1904.9" cy="382.8" r="6.65"/>
<circle cx="1688.3" cy="547.3" r="6.65"/>
<circle cx="1624.6" cy="501.1" r="6.65"/>
<circle cx="1599.2" cy="547.3" r="6.65"/>
<circle cx="1947.4" cy="377.7" r="6.65"/>
<circle cx="1900.7" cy="172.1" r="6.65"/>
<circle cx="1701.1" cy="480.5" r="6.65"/>
<circle cx="1811.5" cy="300.6" r="6.65"/>
<circle cx="1879.4" cy="357.1" r="6.65"/>
<circle cx="1820.0" cy="439.4" r="6.65"/>
<circle cx="1786.0" cy="598.7" r="6.65"/>
<circle cx="1930.4" cy="377.7" r="6.65"/>
<circle cx="1892.2" cy="393.1" r="6.65"/>
<circle cx="1667.1" cy="526.8" r="6.65"/>
<circle cx="1892.2" cy="459.9" r="6.65"/>
<circle cx="1879.4" cy="495.9" r="6.65"/>
<circle cx="1820.0" cy="290.3" r="6.65"/>
<circle cx="1705.3" cy="495.9" r="6.65"/>
<circle cx="1718.1" cy="444.5" r="6.65"/>
<circle cx="1781.8" cy="429.1" r="6.65"/>
<circle cx="1786.0" cy="444.5" r="6.65"/>
<circle cx="1811.5" cy="352.0" r="6.65"/>
<circle cx="1607.7" cy="634.7" r="6.65"/>
<circle cx="1662.9" cy="444.5" r="6.65"/>
<circle cx="1624.6" cy="552.5" r="6.65"/>
<circle cx="1828.5" cy="357.1" r="6.65"/>
<circle cx="1641.6" cy="583.3" r="6.65"/>
<circle cx="1781.8" cy="475.4" r="6.65"/>
<circle cx="1879.4" cy="346.9" r="6.65"/>
<circle cx="1594.9" cy="593.6" r="6.65"/>
<circle cx="1951.6" cy="562.7" r="6.65"/>
<circle cx="1769.0" cy="357.1" r="6.65"/>
<circle cx="1560.9" cy="567.9" r="6.65"/>
<circle cx="1921.9" cy="537.0" r="6.65"/>
<circle cx="1633.1" cy="495.9" r="6.65"/>
<circle cx="1909.2" cy="516.5" r="6.65"/>
<circle cx="1938.9" cy="578.2" r="6.65"/>
<circle cx="1972.9" cy="177.2" r="6.65"/>
<circle cx="1832.7" cy="531.9" r="6.65"/>
<circle cx="1964.4" cy="388.0" r="6.65"/>
<circle cx="1845.5" cy="398.3" r="6.65"/>
<circle cx="1853.9" cy="470.2" r="6.65"/>
<circle cx="1654.4" cy="475.4" r="6.65"/>
<circle cx="1739.3" cy="516.5" r="6.65"/>
<circle cx="1684.1" cy="434.2" r="6.65"/>
<circle cx="1773.3" cy="552.5" r="6.65"/>
<circle cx="1739.3" cy="403.4" r="6.65"/>
<circle cx="1972.9" cy="213.2" r="6.65"/>
<circle cx="1870.9" cy="208.1" r="6.65"/>
<circle cx="1837.0" cy="465.1" r="6.65"/>
<circle cx="1845.5" cy="429.1" r="6.65"/>
<circle cx="1662.9" cy="449.7" r="6.65"/>
<circle cx="1866.7" cy="465.1" r="6.65"/>
<circle cx="1730.8" cy="475.4" r="6.65"/>
<circle cx="1862.4" cy="295.5" r="6.65"/>
<circle cx="1845.5" cy="372.6" r="6.65"/>
<circle cx="1798.7" cy="429.1" r="6.65"/>
<circle cx="1692.6" cy="501.1" r="6.65"/>
<circle cx="1904.9" cy="352.0" r="6.65"/>
<circle cx="1875.2" cy="485.6" r="6.65"/>
<circle cx="1828.5" cy="310.9" r="6.65"/>
<circle cx="1930.4" cy="552.5" r="6.65"/>
<circle cx="1837.0" cy="403.4" r="6.65"/>
<circle cx="1837.0" cy="454.8" r="6.65"/>
<circle cx="1658.6" cy="506.2" r="6.65"/>
<circle cx="1820.0" cy="382.8" r="6.65"/>
<circle cx="1650.1" cy="459.9" r="6.65"/>
<circle cx="1752.0" cy="480.5" r="6.65"/>
<circle cx="1849.7" cy="521.6" r="6.65"/>
<circle cx="1667.1" cy="516.5" r="6.65"/>
<circle cx="1582.2" cy="542.2" r="6.65"/>
<circle cx="1794.5" cy="511.3" r="6.65"/>
<circle cx="1603.4" cy="516.5" r="6.65"/>
<circle cx="1692.6" cy="542.2" r="6.65"/>
<circle cx="1582.2" cy="567.9" r="6.65"/>
<circle cx="1824.2" cy="326.3" r="6.65"/>
<circle cx="1722.3" cy="413.7" r="6.65"/>
<circle cx="1790.3" cy="429.1" r="6.65"/>
<circle cx="1926.1" cy="583.3" r="6.65"/>
<circle cx="1917.6" cy="382.8" r="6.65"/>
<circle cx="1798.7" cy="336.6" r="6.65"/>
<circle cx="1586.4" cy="552.5" r="6.65"/>
<circle cx="1620.4" cy="542.2" r="6.65"/>
<circle cx="1832.7" cy="388.0" r="6.65"/>
<circle cx="1756.3" cy="408.5" r="6.65"/>
<circle cx="1573.7" cy="583.3" r="6.65"/>
<circle cx="1718.1" cy="511.3" r="6.65"/>
<circle cx="1743.5" cy="480.5" r="6.65"/>
<circle cx="1849.7" cy="238.9" r="6.65"/>
<circle cx="1739.3" cy="413.7" r="6.65"/>
<circle cx="1938.9" cy="228.6" r="6.65"/>
<circle cx="1773.3" cy="336.6" r="6.65"/>
<circle cx="1701.1" cy="413.7" r="6.65"/>
<circle cx="1688.3" cy="465.1" r="6.65"/>
<circle cx="1641.6" cy="557.6" r="6.65"/>
<circle cx="1904.9" cy="470.2" r="6.65"/>
<circle cx="1624.6" cy="495.9" r="6.65"/>
<circle cx="1684.1" cy="449.7" r="6.65"/>
<circle cx="1909.2" cy="603.9" r="6.65"/>
<circle cx="1743.5" cy="382.8" r="6.65"/>
<circle cx="1820.0" cy="583.3" r="6.65"/>
<circle cx="1752.0" cy="393.1" r="6.65"/>
<circle cx="1832.7" cy="413.7" r="6.65"/>
<circle cx="1909.2" cy="521.6" r="6.65"/>
<circle cx="1870.9" cy="418.8" r="6.65"/>
<circle cx="1858.2" cy="208.1" r="6.65"/>
<circle cx="1769.0" cy="382.8" r="6.65"/>
<circle cx="1565.2" cy="578.2" r="6.65"/>
<circle cx="1900.7" cy="485.6" r="6.65"/>
<circle cx="1679.8" cy="459.9" r="6.65"/>
<circle cx="1811.5" cy="459.9" r="6.65"/>
<circle cx="1807.2" cy="388.0" r="6.65"/>
<circle cx="1645.9" cy="537.0" r="6.65"/>
<circle cx="1773.3" cy="362.3" r="6.65"/>
<circle cx="1786.0" cy="516.5" r="6.65"/>
<circle cx="1620.4" cy="521.6" r="6.65"/>
<circle cx="1692.6" cy="485.6" r="6.65"/>
<circle cx="1777.5" cy="475.4" r="6.65"/>
<circle cx="1662.9" cy="485.6" r="6.65"/>
<circle cx="1892.2" cy="352.0" r="6.65"/>
<circle cx="1832.7" cy="424.0" r="6.65"/>
<circle cx="1841.2" cy="444.5" r="6.65"/>
<circle cx="1947.4" cy="413.7" r="6.65"/>
<circle cx="1853.9" cy="537.0" r="6.65"/>
<circle cx="1756.3" cy="485.6" r="6.65"/>
<circle cx="1722.3" cy="459.9" r="6.65"/>
<circle cx="1692.6" cy="454.8" r="6.65"/>
<circle cx="1972.9" cy="310.9" r="6.65"/>
<circle cx="1582.2" cy="537.0" r="6.65"/>
<circle cx="1972.9" cy="388.0" r="6.65"/>
<circle cx="1849.7" cy="434.2" r="6.65"/>
<circle cx="1820.0" cy="316.0" r="6.65"/>
<circle cx="1569.4" cy="624.4" r="6.65"/>
<circle cx="1955.9" cy="393.1" r="6.65"/>
<circle cx="1667.1" cy="459.9" r="6.65"/>
<circle cx="1709.6" cy="424.0" r="6.65"/>
<circle cx="1820.0" cy="280.0" r="6.65"/>
<circle cx="1684.1" cy="511.3" r="6.65"/>
</g>
<g fill="#ff8080" stroke="#4f4f4f" stroke-width="0.85">
<circle cx="1934.6" cy="537.0" r="6.65"/>
<circle cx="1900.7" cy="567.9" r="6.65"/>
<circle cx="1875.2" cy="552.5" r="6.65"/>
<circle cx="1921.9" cy="516.5" r="6.65"/>
<circle cx="1951.6" cy="531.9" r="6.65"/>
<circle cx="1960.1" cy="567.9" r="6.65"/>
<circle cx="1972.9" cy="567.9" r="6.65"/>
<circle cx="1875.2" cy="629.6" r="6.65"/>
<circle cx="1943.1" cy="552.5" r="6.65"/>
<circle cx="1892.2" cy="583.3" r="6.65"/>
<circle cx="1938.9" cy="341.7" r="6.65"/>
<circle cx="1794.5" cy="552.5" r="6.65"/>
<circle cx="1892.2" cy="429.1" r="6.65"/>
<circle cx="1951.6" cy="578.2" r="6.65"/>
<circle cx="1904.9" cy="537.0" r="6.65"/>
<circle cx="1841.2" cy="521.6" r="6.65"/>
<circle cx="1896.4" cy="547.3" r="6.65"/>
<circle cx="1773.3" cy="434.2" r="6.65"/>
<circle cx="1947.4" cy="511.3" r="6.65"/>
<circle cx="1790.3" cy="552.5" r="6.65"/>
<circle cx="1964.4" cy="537.0" r="6.65"/>
<circle cx="1913.4" cy="562.7" r="6.65"/>
<circle cx="1696.8" cy="490.8" r="6.65"/>
<circle cx="1921.9" cy="573.0" r="6.65"/>
<circle cx="1896.4" cy="557.6" r="6.65"/>
<circle cx="1934.6" cy="557.6" r="6.65"/>
<circle cx="1896.4" cy="316.0" r="6.65"/>
<circle cx="1934.6" cy="526.8" r="6.65"/>
<circle cx="1951.6" cy="547.3" r="6.65"/>
<circle cx="1947.4" cy="192.7" r="6.65"/>
<circle cx="1913.4" cy="521.6" r="6.65"/>
<circle cx="1972.9" cy="537.0" r="6.65"/>
<circle cx="1849.7" cy="501.1" r="6.65"/>
<circle cx="1883.7" cy="547.3" r="6.65"/>
<circle cx="1858.2" cy="526.8" r="6.65"/>
<circle cx="1866.7" cy="495.9" r="6.65"/>
<circle cx="1853.9" cy="408.5" r="6.65"/>
<circle cx="1913.4" cy="537.0" r="6.65"/>
<circle cx="1917.6" cy="567.9" r="6.65"/>
<circle cx="1900.7" cy="542.2" r="6.65"/>
<circle cx="1845.5" cy="542.2" r="6.65"/>
<circle cx="1892.2" cy="485.6" r="6.65"/>
<circle cx="1820.0" cy="537.0" r="6.65"/>
<circle cx="1866.7" cy="567.9" r="6.65"/>
<circle cx="1921.9" cy="552.5" r="6.65"/>
<circle cx="1879.4" cy="624.4" r="6.65"/>
<circle cx="1820.0" cy="516.5" r="6.65"/>
<circle cx="1777.5" cy="573.0" r="6.65"/>
<circle cx="1913.4" cy="573.0" r="6.65"/>
<circle cx="1968.6" cy="511.3" r="6.65"/>
<circle cx="1972.9" cy="511.3" r="6.65"/>
<circle cx="1887.9" cy="562.7" r="6.65"/>
<circle cx="1955.9" cy="542.2" r="6.65"/>
<circle cx="1807.2" cy="557.6" r="6.65"/>
<circle cx="1837.0" cy="562.7" r="6.65"/>
<circle cx="1955.9" cy="552.5" r="6.65"/>
<circle cx="1913.4" cy="552.5" r="6.65"/>
<circle cx="1790.3" cy="547.3" r="6.65"/>
<circle cx="1803.0" cy="537.0" r="6.65"/>
<circle cx="1913.4" cy="526.8" r="6.65"/>
<circle cx="1841.2" cy="408.5" r="6.65"/>
<circle cx="1896.4" cy="583.3" r="6.65"/>
<circle cx="1811.5" cy="495.9" r="6.65"/>
<circle cx="1820.0" cy="526.8" r="6.65"/>
<circle cx="1883.7" cy="511.3" r="6.65"/>
<circle cx="1862.4" cy="573.0" r="6.65"/>
<circle cx="1955.9" cy="573.0" r="6.65"/>
<circle cx="1930.4" cy="573.0" r="6.65"/>
<circle cx="1858.2" cy="516.5" r="6.65"/>
<circle cx="1845.5" cy="537.0" r="6.65"/>
<circle cx="1832.7" cy="547.3" r="6.65"/>
<circle cx="1943.1" cy="567.9" r="6.65"/>
<circle cx="1913.4" cy="531.9" r="6.65"/>
<circle cx="1845.5" cy="310.9" r="6.65"/>
<circle cx="1951.6" cy="516.5" r="6.65"/>
<circle cx="1917.6" cy="578.2" r="6.65"/>
<circle cx="1820.0" cy="542.2" r="6.65"/>
<circle cx="1964.4" cy="547.3" r="6.65"/>
<circle cx="1841.2" cy="341.7" r="6.65"/>
<circle cx="1858.2" cy="624.4" r="6.65"/>
<circle cx="1930.4" cy="562.7" r="6.65"/>
<circle cx="1926.1" cy="526.8" r="6.65"/>
<circle cx="1870.9" cy="583.3" r="6.65"/>
<circle cx="1887.9" cy="552.5" r="6.65"/>
<circle cx="1904.9" cy="573.0" r="6.65"/>
<circle cx="1926.1" cy="388.0" r="6.65"/>
<circle cx="1828.5" cy="573.0" r="6.65"/>
<circle cx="1760.5" cy="583.3" r="6.65"/>
<circle cx="1866.7" cy="285.2" r="6.65"/>
<circle cx="1917.6" cy="547.3" r="6.65"/>
<circle cx="1883.7" cy="475.4" r="6.65"/>
<circle cx="1845.5" cy="552.5" r="6.65"/>
<circle cx="1947.4" cy="516.5" r="6.65"/>
<circle cx="1875.2" cy="583.3" r="6.65"/>
<circle cx="1875.2" cy="573.0" r="6.65"/>
<circle cx="1930.4" cy="274.9" r="6.65"/>
<circle cx="1875.2" cy="531.9" r="6.65"/>
<circle cx="1866.7" cy="537.0" r="6.65"/>
<circle cx="1866.7" cy="573.0" r="6.65"/>
<circle cx="1866.7" cy="557.6" r="6.65"/>
<circle cx="1960.1" cy="557.6" r="6.65"/>
<circle cx="1896.4" cy="506.2" r="6.65"/>
<circle cx="1926.1" cy="567.9" r="6.65"/>
<circle cx="1858.2" cy="557.6" r="6.65"/>
<circle cx="1845.5" cy="511.3" r="6.65"/>
<circle cx="1909.2" cy="547.3" r="6.65"/>
<circle cx="1858.2" cy="264.6" r="6.65"/>
<circle cx="1837.0" cy="542.2" r="6.65"/>
<circle cx="1794.5" cy="578.2" r="6.65"/>
<circle cx="1968.6" cy="578.2" r="6.65"/>
<circle cx="1955.9" cy="495.9" r="6.65"/>
<circle cx="1781.8" cy="557.6" r="6.65"/>
<circle cx="1777.5" cy="418.8" r="6.65"/>
<circle cx="1883.7" cy="398.3" r="6.65"/>
<circle cx="1947.4" cy="228.6" r="6.65"/>
<circle cx="1883.7" cy="557.6" r="6.65"/>
<circle cx="1943.1" cy="588.4" r="6.65"/>
<circle cx="1858.2" cy="583.3" r="6.65"/>
<circle cx="1934.6" cy="567.9" r="6.65"/>
<circle cx="1968.6" cy="526.8" r="6.65"/>
<circle cx="1752.0" cy="603.9" r="6.65"/>
<circle cx="1883.7" cy="573.0" r="6.65"/>
<circle cx="1909.2" cy="567.9" r="6.65"/>
<circle cx="1930.4" cy="542.2" r="6.65"/>
<circle cx="1760.5" cy="562.7" r="6.65"/>
<circle cx="1913.4" cy="459.9" r="6.65"/>
<circle cx="1943.1" cy="537.0" r="6.65"/>
<circle cx="1921.9" cy="501.1" r="6.65"/>
<circle cx="1964.4" cy="583.3" r="6.65"/>
<circle cx="1972.9" cy="547.3" r="6.65"/>
<circle cx="1803.0" cy="531.9" r="6.65"/>
<circle cx="1900.7" cy="578.2" r="6.65"/>
<circle cx="1896.4" cy="537.0" r="6.65"/>
<circle cx="1892.2" cy="542.2" r="6.65"/>
<circle cx="1964.4" cy="562.7" r="6.65"/>
<circle cx="1921.9" cy="562.7" r="6.65"/>
<circle cx="1917.6" cy="557.6" r="6.65"/>
<circle cx="1972.9" cy="573.0" r="6.65"/>
<circle cx="1938.9" cy="547.3" r="6.65"/>
<circle cx="1841.2" cy="593.6" r="6.65"/>
<circle cx="1892.2" cy="567.9" r="6.65"/>
<circle cx="1972.9" cy="557.6" r="6.65"/>
<circle cx="1947.4" cy="573.0" r="6.65"/>
<circle cx="1947.4" cy="521.6" r="6.65"/>
<circle cx="1803.0" cy="542.2" r="6.65"/>
<circle cx="1769.0" cy="573.0" r="6.65"/>
<circle cx="1972.9" cy="470.2" r="6.65"/>
<circle cx="1887.9" cy="537.0" r="6.65"/>
<circle cx="1904.9" cy="557.6" r="6.65"/>
<circle cx="1947.4" cy="552.5" r="6.65"/>
<circle cx="1879.4" cy="562.7" r="6.65"/>
<circle cx="1777.5" cy="562.7" r="6.65"/>
<circle cx="1972.9" cy="501.1" r="6.65"/>
<circle cx="1900.7" cy="552.5" r="6.65"/>
<circle cx="1972.9" cy="531.9" r="6.65"/>
<circle cx="1955.9" cy="531.9" r="6.65"/>
<circle cx="1892.2" cy="424.0" r="6.65"/>
<circle cx="1938.9" cy="506.2" r="6.65"/>
<circle cx="1841.2" cy="583.3" r="6.65"/>
<circle cx="1909.2" cy="588.4" r="6.65"/>
<circle cx="1811.5" cy="506.2" r="6.65"/>
<circle cx="1837.0" cy="516.5" r="6.65"/>
<circle cx="1972.9" cy="562.7" r="6.65"/>
<circle cx="1960.1" cy="583.3" r="6.65"/>
<circle cx="1909.2" cy="506.2" r="6.65"/>
<circle cx="1879.4" cy="449.7" r="6.65"/>
<circle cx="1849.7" cy="495.9" r="6.65"/>
<circle cx="1781.8" cy="547.3" r="6.65"/>
<circle cx="1794.5" cy="567.9" r="6.65"/>
<circle cx="1870.9" cy="526.8" r="6.65"/>
<circle cx="1938.9" cy="562.7" r="6.65"/>
<circle cx="1921.9" cy="511.3" r="6.65"/>
<circle cx="1875.2" cy="537.0" r="6.65"/>
<circle cx="1798.7" cy="573.0" r="6.65"/>
<circle cx="1760.5" cy="408.5" r="6.65"/>
<circle cx="1858.2" cy="475.4" r="6.65"/>
<circle cx="1862.4" cy="578.2" r="6.65"/>
<circle cx="1879.4" cy="542.2" r="6.65"/>
<circle cx="1803.0" cy="547.3" r="6.65"/>
<circle cx="1968.6" cy="552.5" r="6.65"/>
<circle cx="1964.4" cy="573.0" r="6.65"/>
<circle cx="1968.6" cy="542.2" r="6.65"/>
<circle cx="1972.9" cy="583.3" r="6.65"/>
<circle cx="1947.4" cy="537.0" r="6.65"/>
</g>
<text x="1538" y="694.6" text-anchor="end" font-size="25.2">-20</text>
<text x="1538" y="591.8" text-anchor="end" font-size="25.2">0</text>
<text x="1538" y="489.0" text-anchor="end" font-size="25.2">20</text>
<text x="1538" y="386.2" text-anchor="end" font-size="25.2">40</text>
<text x="1538" y="283.4" text-anchor="end" font-size="25.2">60</text>
<text x="1538" y="180.6" text-anchor="end" font-size="25.2">80</text>
<text x="1538" y="77.8" text-anchor="end" font-size="25.2">100</text>
<text x="1548.2" y="745.6" text-anchor="middle" font-size="25.2">0</text>
<text x="1633.1" y="745.6" text-anchor="middle" font-size="25.2">20</text>
<text x="1718.1" y="745.6" text-anchor="middle" font-size="25.2">40</text>
<text x="1803.0" y="745.6" text-anchor="middle" font-size="25.2">60</text>
<text x="1887.9" y="745.6" text-anchor="middle" font-size="25.2">80</text>
<text x="1972.9" y="745.6" text-anchor="middle" font-size="25.2">100</text>
<text x="1759.2" y="786.3" text-anchor="middle">Initial impairment</text>
<text x="1759.5" y="812.8" text-anchor="middle">(100 - Baseline total motor score)</text>
<text transform="translate(1453.3 395.5) rotate(-90)" text-anchor="middle">Change</text>
<text transform="translate(1479.6 395.5) rotate(-90)" text-anchor="middle">(Final - Baseline total motor score)</text>
<text x="1595.8" y="27.9"><tspan font-style="italic">N</tspan> = 261 AIS A individuals</text>
<text x="1595.8" y="54.5"><tspan font-style="italic">N</tspan> = 480 AIS B/C/D individuals</text>
<text x="1670.3" y="97.2">Slope</text>
<text x="1794" y="97.2" font-style="italic">P</text>
<circle cx="1566.6" cy="120.0" r="8" fill="#ff8080" stroke="#000" stroke-width="1.2"/>
<text x="1584.3" y="128.7">AIS A</text>
<text x="1733.3" y="128.7" text-anchor="end">-0.020</text>
<text x="1766" y="128.7">0.662</text>
<circle cx="1566.6" cy="148.2" r="8" fill="#559dfb" stroke="#000" stroke-width="1.2"/>
<text x="1584.3" y="156.8">AIS B</text>
<text x="1729.3" y="156.8" text-anchor="end">0.370</text>
<text x="1766" y="156.8">0.016*</text>
<circle cx="1566.6" cy="176.3" r="8" fill="#559dfb" stroke="#000" stroke-width="1.2"/>
<text x="1584.3" y="185.0">AIS C</text>
<text x="1729.3" y="185.0" text-anchor="end">0.238</text>
<text x="1766" y="185.0">0.031*</text>
<circle cx="1566.6" cy="204.4" r="8" fill="#559dfb" stroke="#000" stroke-width="1.2"/>
<text x="1584.3" y="213.1">AIS D</text>
<text x="1729.3" y="213.1" text-anchor="end">0.588</text>
<text x="1749.8" y="213.1">&lt;0.0001<tspan dy="-7" dx="-1" font-size="20">**</tspan></text>
</svg></body></html>
